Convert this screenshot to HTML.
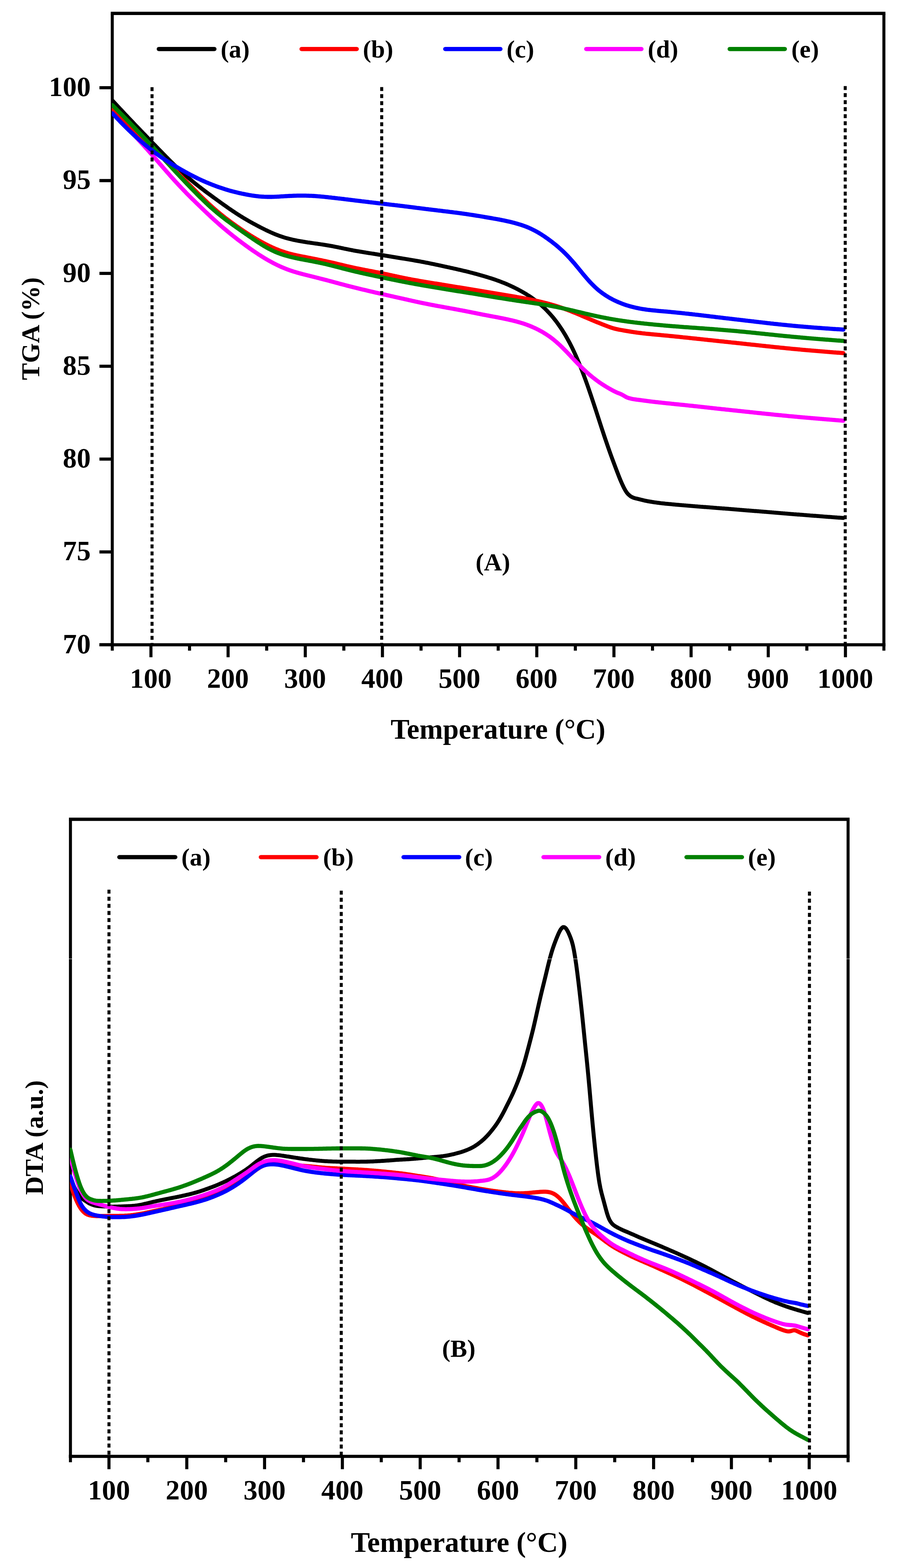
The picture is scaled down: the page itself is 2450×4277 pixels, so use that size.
<!DOCTYPE html>
<html lang="en"><head><meta charset="utf-8"><title>TGA / DTA curves</title>
<style>html,body{margin:0;padding:0;background:#fff}svg{display:block}text{font-family:'Liberation Serif','Times New Roman',Times,serif;font-weight:bold;fill:#000}.ax{stroke:#000;stroke-width:8.6;fill:none;stroke-linecap:butt}.tkm{stroke:#000;stroke-width:8.4;fill:none}.dot{stroke:#000;stroke-width:8.2;fill:none}.cv{fill:none;stroke-linecap:round;stroke-linejoin:round}.lg{fill:none;stroke-width:11.6;stroke-linecap:round}</style></head><body>
<svg width="2450" height="4277" viewBox="0 0 2450 4277">
<rect width="2450" height="4277" fill="#fff"/>
<path class="ax" style="stroke-width:8.2" d="M306.3,1774.8V36.5M2411.5,36.5V1774.8"/>
<path class="ax" style="stroke-width:9" d="M302.2,36.5H2415.6"/>
<path class="ax" d="M271.3,1758.8H2415.9"/>
<path class="tkm" d="M411.8,1758.8v34M517.1,1758.8v16M622.3,1758.8v34M727.6,1758.8v16M832.9,1758.8v34M938.1,1758.8v16M1043.4,1758.8v34M1148.7,1758.8v16M1253.9,1758.8v34M1359.2,1758.8v16M1464.5,1758.8v34M1569.7,1758.8v16M1675.0,1758.8v34M1780.2,1758.8v16M1885.5,1758.8v34M1990.8,1758.8v16M2096.0,1758.8v34M2201.3,1758.8v16M2306.6,1758.8v34"/>
<clipPath id="clipA"><rect x="305.0" y="36.5" width="2105.2" height="1722.3"/></clipPath>
<g class="cv" clip-path="url(#clipA)">
<path d="M306.5,274.0 309.5,277.2 312.5,280.5 315.5,283.7 318.5,286.9 321.5,290.1 324.5,293.4 327.5,296.6 330.5,299.8 333.5,303.0 336.5,306.2 339.5,309.4 342.5,312.6 345.5,315.8 348.5,319.0 351.5,322.2 354.5,325.3 357.5,328.5 360.5,331.6 363.5,334.8 366.5,337.9 369.5,341.1 372.5,344.2 375.5,347.3 378.5,350.5 381.5,353.6 384.5,356.7 387.5,359.8 390.5,362.9 393.5,366.0 396.5,369.1 399.5,372.2 402.5,375.3 405.5,378.4 408.5,381.5 411.5,384.7 414.5,387.8 417.5,390.9 420.5,394.0 423.5,397.1 426.5,400.2 429.5,403.3 432.5,406.4 435.5,409.5 438.5,412.6 441.5,415.6 444.5,418.7 447.5,421.8 450.5,424.8 453.5,427.9 456.5,430.9 459.5,434.0 462.5,437.0 465.5,440.0 468.5,442.9 471.5,445.9 474.5,448.8 477.5,451.7 480.5,454.6 483.5,457.5 486.5,460.3 489.5,463.1 492.5,465.9 495.5,468.7 498.5,471.4 501.5,474.1 504.5,476.7 507.4,479.4 510.4,482.0 513.4,484.6 516.4,487.1 519.4,489.7 522.4,492.2 525.4,494.7 528.4,497.1 531.4,499.6 534.4,502.0 537.4,504.4 540.4,506.7 543.4,509.1 546.4,511.4 549.4,513.7 552.4,516.0 555.4,518.3 558.4,520.6 561.4,522.8 564.4,525.1 567.4,527.3 570.4,529.5 573.4,531.7 576.4,533.9 579.4,536.1 582.4,538.3 585.4,540.5 588.4,542.7 591.4,544.8 594.4,547.0 597.4,549.2 600.4,551.3 603.4,553.5 606.4,555.6 609.4,557.8 612.4,559.9 615.4,562.0 618.4,564.2 621.4,566.3 624.4,568.4 627.4,570.4 630.4,572.5 633.4,574.5 636.4,576.6 639.4,578.6 642.4,580.6 645.4,582.5 648.4,584.5 651.4,586.4 654.4,588.3 657.4,590.2 660.4,592.0 663.4,593.9 666.4,595.7 669.4,597.4 672.4,599.2 675.4,600.9 678.4,602.7 681.4,604.4 684.4,606.1 687.4,607.7 690.4,609.4 693.4,611.0 696.4,612.6 699.4,614.2 702.4,615.8 705.4,617.4 708.4,618.9 711.4,620.5 714.4,622.0 717.4,623.5 720.4,625.0 723.4,626.5 726.4,628.0 729.4,629.4 732.4,630.8 735.4,632.2 738.4,633.6 741.4,634.9 744.4,636.2 747.4,637.5 750.4,638.7 753.4,640.0 756.4,641.1 759.4,642.3 762.4,643.4 765.4,644.4 768.4,645.4 771.4,646.4 774.4,647.4 777.4,648.3 780.4,649.2 783.4,650.0 786.4,650.8 789.4,651.6 792.4,652.3 795.4,653.0 798.4,653.7 801.4,654.4 804.4,655.0 807.4,655.6 810.4,656.2 813.4,656.8 816.4,657.3 819.4,657.9 822.4,658.4 825.4,658.9 828.4,659.4 831.4,659.9 834.4,660.4 837.4,660.8 840.4,661.3 843.4,661.7 846.4,662.2 849.4,662.6 852.4,663.0 855.4,663.5 858.4,663.9 861.4,664.3 864.4,664.7 867.4,665.2 870.4,665.6 873.4,666.0 876.4,666.5 879.4,666.9 882.4,667.4 885.4,667.8 888.4,668.3 891.4,668.8 894.4,669.3 897.4,669.8 900.4,670.3 903.4,670.9 906.4,671.4 909.3,672.0 912.3,672.6 915.3,673.2 918.3,673.8 921.3,674.4 924.3,675.0 927.3,675.6 930.3,676.3 933.3,676.9 936.3,677.5 939.3,678.2 942.3,678.8 945.3,679.4 948.3,680.0 951.3,680.6 954.3,681.2 957.3,681.8 960.3,682.4 963.3,683.0 966.3,683.6 969.3,684.1 972.3,684.7 975.3,685.2 978.3,685.7 981.3,686.2 984.3,686.7 987.3,687.2 990.3,687.7 993.3,688.2 996.3,688.7 999.3,689.2 1002.3,689.6 1005.3,690.1 1008.3,690.6 1011.3,691.0 1014.3,691.5 1017.3,691.9 1020.3,692.4 1023.3,692.9 1026.3,693.3 1029.3,693.8 1032.3,694.3 1035.3,694.8 1038.3,695.2 1041.3,695.7 1044.3,696.2 1047.3,696.7 1050.3,697.2 1053.3,697.7 1056.3,698.1 1059.3,698.6 1062.3,699.1 1065.3,699.6 1068.3,700.1 1071.3,700.6 1074.3,701.1 1077.3,701.6 1080.3,702.1 1083.3,702.6 1086.3,703.1 1089.3,703.6 1092.3,704.1 1095.3,704.6 1098.3,705.1 1101.3,705.5 1104.3,706.0 1107.3,706.5 1110.3,707.0 1113.3,707.5 1116.3,708.0 1119.3,708.5 1122.3,709.0 1125.3,709.5 1128.3,710.0 1131.3,710.6 1134.3,711.1 1137.3,711.6 1140.3,712.1 1143.3,712.7 1146.3,713.2 1149.3,713.8 1152.3,714.3 1155.3,714.9 1158.3,715.5 1161.3,716.1 1164.3,716.7 1167.3,717.2 1170.3,717.8 1173.3,718.5 1176.3,719.1 1179.3,719.7 1182.3,720.3 1185.3,720.9 1188.3,721.6 1191.3,722.2 1194.3,722.8 1197.3,723.5 1200.3,724.1 1203.3,724.8 1206.3,725.4 1209.3,726.1 1212.3,726.7 1215.3,727.4 1218.3,728.0 1221.3,728.7 1224.3,729.3 1227.3,730.0 1230.3,730.7 1233.3,731.3 1236.3,732.0 1239.3,732.7 1242.3,733.3 1245.3,734.0 1248.3,734.7 1251.3,735.4 1254.3,736.1 1257.3,736.8 1260.3,737.5 1263.3,738.2 1266.3,738.9 1269.3,739.6 1272.3,740.3 1275.3,741.1 1278.3,741.8 1281.3,742.6 1284.3,743.4 1287.3,744.1 1290.3,744.9 1293.3,745.7 1296.3,746.5 1299.3,747.3 1302.3,748.1 1305.3,749.0 1308.2,749.8 1311.2,750.7 1314.2,751.5 1317.2,752.4 1320.2,753.2 1323.2,754.1 1326.2,755.0 1329.2,755.9 1332.2,756.9 1335.2,757.8 1338.2,758.7 1341.2,759.7 1344.2,760.7 1347.2,761.7 1350.2,762.7 1353.2,763.7 1356.2,764.8 1359.2,765.8 1362.2,766.9 1365.2,768.1 1368.2,769.2 1371.2,770.4 1374.2,771.6 1377.2,772.8 1380.2,774.0 1383.2,775.3 1386.2,776.6 1389.2,777.9 1392.2,779.3 1395.2,780.7 1398.2,782.1 1401.2,783.5 1404.2,785.0 1407.2,786.5 1410.2,788.0 1413.2,789.6 1416.2,791.2 1419.2,792.8 1422.2,794.4 1425.2,796.1 1428.2,797.9 1431.2,799.6 1434.2,801.4 1437.2,803.3 1440.2,805.2 1443.2,807.1 1446.2,809.1 1449.2,811.1 1452.2,813.2 1455.2,815.3 1458.2,817.5 1461.2,819.8 1464.2,822.1 1467.2,824.5 1470.2,826.9 1473.2,829.5 1476.2,832.1 1479.2,834.7 1482.2,837.5 1485.2,840.3 1488.2,843.3 1491.2,846.3 1494.2,849.4 1497.2,852.6 1500.2,855.9 1503.2,859.3 1506.2,862.7 1509.2,866.3 1512.2,870.0 1515.2,873.8 1518.2,877.8 1521.2,881.8 1524.2,886.0 1527.2,890.3 1530.2,894.7 1533.2,899.2 1536.2,904.0 1539.2,908.8 1542.2,913.8 1545.2,919.0 1548.2,924.3 1551.2,929.8 1554.2,935.4 1557.2,941.2 1560.2,947.2 1563.2,953.4 1566.2,959.7 1569.2,966.2 1572.2,972.9 1575.2,979.8 1578.2,986.9 1581.2,994.1 1584.2,1001.5 1587.2,1009.1 1590.2,1016.9 1593.2,1024.8 1596.2,1032.9 1599.2,1041.1 1602.2,1049.5 1605.2,1058.0 1608.2,1066.7 1611.2,1075.5 1614.2,1084.4 1617.2,1093.4 1620.2,1102.4 1623.2,1111.5 1626.2,1120.7 1629.2,1129.9 1632.2,1139.2 1635.2,1148.4 1638.2,1157.6 1641.2,1166.8 1644.2,1175.9 1647.2,1185.0 1650.2,1194.0 1653.2,1202.8 1656.2,1211.6 1659.2,1220.3 1662.2,1228.8 1665.2,1237.2 1668.2,1245.5 1671.2,1253.6 1674.2,1261.7 1677.2,1269.7 1680.2,1277.7 1683.2,1285.5 1686.2,1293.3 1689.2,1301.0 1692.2,1308.4 1695.2,1315.4 1698.2,1322.1 1701.2,1328.4 1704.2,1334.2 1707.1,1339.3 1710.1,1343.7 1713.1,1347.3 1716.1,1350.2 1719.1,1352.7 1722.1,1354.7 1725.1,1356.3 1728.1,1357.6 1731.1,1358.6 1734.1,1359.4 1737.1,1360.1 1740.1,1360.8 1743.1,1361.6 1746.1,1362.3 1749.1,1363.1 1752.1,1363.8 1755.1,1364.5 1758.1,1365.2 1761.1,1365.9 1764.1,1366.5 1767.1,1367.1 1770.1,1367.7 1773.1,1368.2 1776.1,1368.7 1779.1,1369.2 1782.1,1369.6 1785.1,1370.1 1788.1,1370.5 1791.1,1370.9 1794.1,1371.3 1797.1,1371.7 1800.1,1372.1 1803.1,1372.5 1806.1,1372.8 1809.1,1373.1 1812.1,1373.4 1815.1,1373.8 1818.1,1374.1 1821.1,1374.4 1824.1,1374.7 1827.1,1374.9 1830.1,1375.2 1833.1,1375.5 1836.1,1375.8 1839.1,1376.0 1842.1,1376.3 1845.1,1376.6 1848.1,1376.8 1851.1,1377.1 1854.1,1377.4 1857.1,1377.6 1860.1,1377.9 1863.1,1378.1 1866.1,1378.4 1869.1,1378.6 1872.1,1378.9 1875.1,1379.1 1878.1,1379.4 1881.1,1379.6 1884.1,1379.9 1887.1,1380.1 1890.1,1380.4 1893.1,1380.6 1896.1,1380.9 1899.1,1381.1 1902.1,1381.3 1905.1,1381.6 1908.1,1381.8 1911.1,1382.1 1914.1,1382.3 1917.1,1382.5 1920.1,1382.8 1923.1,1383.0 1926.1,1383.2 1929.1,1383.5 1932.1,1383.7 1935.1,1383.9 1938.1,1384.2 1941.1,1384.4 1944.1,1384.6 1947.1,1384.9 1950.1,1385.1 1953.1,1385.3 1956.1,1385.6 1959.1,1385.8 1962.1,1386.0 1965.1,1386.3 1968.1,1386.5 1971.1,1386.8 1974.1,1387.0 1977.1,1387.2 1980.1,1387.5 1983.1,1387.7 1986.1,1387.9 1989.1,1388.2 1992.1,1388.4 1995.1,1388.7 1998.1,1388.9 2001.1,1389.1 2004.1,1389.4 2007.1,1389.6 2010.1,1389.9 2013.1,1390.1 2016.1,1390.3 2019.1,1390.6 2022.1,1390.8 2025.1,1391.1 2028.1,1391.3 2031.1,1391.6 2034.1,1391.8 2037.1,1392.1 2040.1,1392.3 2043.1,1392.5 2046.1,1392.8 2049.1,1393.0 2052.1,1393.3 2055.1,1393.5 2058.1,1393.8 2061.1,1394.0 2064.1,1394.2 2067.1,1394.5 2070.1,1394.7 2073.1,1395.0 2076.1,1395.2 2079.1,1395.5 2082.1,1395.7 2085.1,1396.0 2088.1,1396.2 2091.1,1396.4 2094.1,1396.7 2097.1,1396.9 2100.1,1397.2 2103.1,1397.4 2106.1,1397.7 2109.0,1397.9 2112.0,1398.2 2115.0,1398.4 2118.0,1398.7 2121.0,1398.9 2124.0,1399.2 2127.0,1399.4 2130.0,1399.7 2133.0,1399.9 2136.0,1400.2 2139.0,1400.4 2142.0,1400.7 2145.0,1400.9 2148.0,1401.1 2151.0,1401.4 2154.0,1401.6 2157.0,1401.9 2160.0,1402.1 2163.0,1402.3 2166.0,1402.6 2169.0,1402.8 2172.0,1403.0 2175.0,1403.3 2178.0,1403.5 2181.0,1403.7 2184.0,1404.0 2187.0,1404.2 2190.0,1404.4 2193.0,1404.7 2196.0,1404.9 2199.0,1405.1 2202.0,1405.4 2205.0,1405.6 2208.0,1405.8 2211.0,1406.1 2214.0,1406.3 2217.0,1406.5 2220.0,1406.8 2223.0,1407.0 2226.0,1407.2 2229.0,1407.5 2232.0,1407.7 2235.0,1407.9 2238.0,1408.2 2241.0,1408.4 2244.0,1408.6 2247.0,1408.9 2250.0,1409.1 2253.0,1409.3 2256.0,1409.5 2259.0,1409.8 2262.0,1410.0 2265.0,1410.2 2268.0,1410.4 2271.0,1410.7 2274.0,1410.9 2277.0,1411.1 2280.0,1411.3 2283.0,1411.5 2286.0,1411.8 2289.0,1412.0 2292.0,1412.2 2295.0,1412.4 2298.0,1412.6 2301.0,1412.8" stroke="#000000" stroke-width="10.8"/>
<path d="M306.5,307.0 309.5,310.0 312.5,313.1 315.5,316.1 318.5,319.2 321.5,322.2 324.5,325.3 327.5,328.3 330.5,331.4 333.5,334.5 336.5,337.6 339.5,340.7 342.5,343.8 345.5,346.9 348.5,350.1 351.5,353.2 354.5,356.4 357.5,359.5 360.5,362.7 363.5,365.9 366.5,369.1 369.5,372.3 372.5,375.6 375.5,378.8 378.5,382.1 381.5,385.3 384.5,388.6 387.5,391.9 390.5,395.2 393.5,398.5 396.5,401.9 399.5,405.2 402.5,408.6 405.5,411.9 408.5,415.3 411.5,418.7 414.5,422.1 417.5,425.5 420.5,428.9 423.5,432.3 426.5,435.8 429.5,439.2 432.5,442.6 435.5,446.1 438.5,449.5 441.5,453.0 444.5,456.4 447.5,459.9 450.5,463.3 453.5,466.8 456.5,470.2 459.5,473.6 462.5,477.0 465.5,480.4 468.5,483.7 471.5,487.1 474.5,490.4 477.5,493.7 480.5,497.0 483.5,500.2 486.5,503.5 489.5,506.7 492.5,509.8 495.5,513.0 498.5,516.1 501.5,519.2 504.5,522.3 507.4,525.4 510.4,528.4 513.4,531.4 516.4,534.4 519.4,537.4 522.4,540.4 525.4,543.4 528.4,546.3 531.4,549.3 534.4,552.2 537.4,555.1 540.4,558.0 543.4,560.9 546.4,563.8 549.4,566.7 552.4,569.6 555.4,572.5 558.4,575.3 561.4,578.2 564.4,581.0 567.4,583.9 570.4,586.7 573.4,589.5 576.4,592.3 579.4,595.0 582.4,597.8 585.4,600.5 588.4,603.2 591.4,605.9 594.4,608.6 597.4,611.3 600.4,613.9 603.4,616.5 606.4,619.1 609.4,621.7 612.4,624.2 615.4,626.7 618.4,629.2 621.4,631.7 624.4,634.2 627.4,636.6 630.4,639.0 633.4,641.4 636.4,643.8 639.4,646.2 642.4,648.5 645.4,650.9 648.4,653.2 651.4,655.5 654.4,657.8 657.4,660.0 660.4,662.3 663.4,664.5 666.4,666.7 669.4,668.9 672.4,671.1 675.4,673.3 678.4,675.4 681.4,677.6 684.4,679.7 687.4,681.8 690.4,683.8 693.4,685.9 696.4,687.9 699.4,689.9 702.4,691.9 705.4,693.9 708.4,695.8 711.4,697.7 714.4,699.6 717.4,701.4 720.4,703.3 723.4,705.1 726.4,706.8 729.4,708.6 732.4,710.3 735.4,712.0 738.4,713.7 741.4,715.3 744.4,716.9 747.4,718.5 750.4,720.0 753.4,721.5 756.4,723.0 759.4,724.4 762.4,725.8 765.4,727.2 768.4,728.5 771.4,729.8 774.4,731.1 777.4,732.3 780.4,733.5 783.4,734.6 786.4,735.7 789.4,736.8 792.4,737.8 795.4,738.8 798.4,739.8 801.4,740.8 804.4,741.7 807.4,742.6 810.4,743.5 813.4,744.3 816.4,745.2 819.4,746.0 822.4,746.8 825.4,747.6 828.4,748.4 831.4,749.1 834.4,749.9 837.4,750.6 840.4,751.4 843.4,752.1 846.4,752.9 849.4,753.6 852.4,754.4 855.4,755.1 858.4,755.9 861.4,756.6 864.4,757.4 867.4,758.1 870.4,758.9 873.4,759.7 876.4,760.4 879.4,761.2 882.4,762.0 885.4,762.8 888.4,763.5 891.4,764.3 894.4,765.1 897.4,765.9 900.4,766.7 903.4,767.5 906.4,768.3 909.3,769.1 912.3,769.9 915.3,770.7 918.3,771.5 921.3,772.3 924.3,773.1 927.3,774.0 930.3,774.8 933.3,775.6 936.3,776.3 939.3,777.1 942.3,777.9 945.3,778.7 948.3,779.5 951.3,780.3 954.3,781.0 957.3,781.8 960.3,782.5 963.3,783.3 966.3,784.1 969.3,784.8 972.3,785.5 975.3,786.3 978.3,787.0 981.3,787.7 984.3,788.5 987.3,789.2 990.3,789.9 993.3,790.6 996.3,791.3 999.3,792.0 1002.3,792.7 1005.3,793.5 1008.3,794.2 1011.3,794.9 1014.3,795.6 1017.3,796.3 1020.3,797.0 1023.3,797.7 1026.3,798.4 1029.3,799.0 1032.3,799.7 1035.3,800.4 1038.3,801.1 1041.3,801.8 1044.3,802.5 1047.3,803.2 1050.3,803.8 1053.3,804.5 1056.3,805.2 1059.3,805.9 1062.3,806.5 1065.3,807.2 1068.3,807.9 1071.3,808.5 1074.3,809.2 1077.3,809.9 1080.3,810.6 1083.3,811.2 1086.3,811.9 1089.3,812.6 1092.3,813.2 1095.3,813.9 1098.3,814.6 1101.3,815.3 1104.3,816.0 1107.3,816.6 1110.3,817.3 1113.3,818.0 1116.3,818.7 1119.3,819.3 1122.3,820.0 1125.3,820.7 1128.3,821.3 1131.3,822.0 1134.3,822.7 1137.3,823.3 1140.3,824.0 1143.3,824.6 1146.3,825.2 1149.3,825.9 1152.3,826.5 1155.3,827.1 1158.3,827.7 1161.3,828.3 1164.3,828.9 1167.3,829.5 1170.3,830.1 1173.3,830.7 1176.3,831.3 1179.3,831.9 1182.3,832.4 1185.3,833.0 1188.3,833.6 1191.3,834.1 1194.3,834.7 1197.3,835.2 1200.3,835.8 1203.3,836.3 1206.3,836.9 1209.3,837.4 1212.3,838.0 1215.3,838.5 1218.3,839.1 1221.3,839.6 1224.3,840.1 1227.3,840.7 1230.3,841.2 1233.3,841.8 1236.3,842.3 1239.3,842.9 1242.3,843.4 1245.3,844.0 1248.3,844.5 1251.3,845.1 1254.3,845.7 1257.3,846.2 1260.3,846.8 1263.3,847.4 1266.3,847.9 1269.3,848.5 1272.3,849.1 1275.3,849.7 1278.3,850.3 1281.3,850.9 1284.3,851.5 1287.3,852.1 1290.3,852.7 1293.3,853.3 1296.3,853.9 1299.3,854.5 1302.3,855.1 1305.3,855.7 1308.2,856.3 1311.2,856.9 1314.2,857.5 1317.2,858.1 1320.2,858.6 1323.2,859.2 1326.2,859.8 1329.2,860.4 1332.2,860.9 1335.2,861.5 1338.2,862.1 1341.2,862.6 1344.2,863.2 1347.2,863.8 1350.2,864.3 1353.2,864.9 1356.2,865.4 1359.2,866.0 1362.2,866.6 1365.2,867.2 1368.2,867.8 1371.2,868.4 1374.2,869.0 1377.2,869.6 1380.2,870.2 1383.2,870.9 1386.2,871.5 1389.2,872.2 1392.2,872.9 1395.2,873.6 1398.2,874.3 1401.2,875.0 1404.2,875.8 1407.2,876.5 1410.2,877.3 1413.2,878.2 1416.2,879.0 1419.2,879.9 1422.2,880.8 1425.2,881.7 1428.2,882.7 1431.2,883.7 1434.2,884.7 1437.2,885.8 1440.2,886.9 1443.2,888.1 1446.2,889.3 1449.2,890.5 1452.2,891.8 1455.2,893.1 1458.2,894.4 1461.2,895.8 1464.2,897.3 1467.2,898.8 1470.2,900.3 1473.2,901.9 1476.2,903.5 1479.2,905.2 1482.2,907.0 1485.2,908.8 1488.2,910.6 1491.2,912.6 1494.2,914.6 1497.2,916.6 1500.2,918.7 1503.2,920.9 1506.2,923.2 1509.2,925.5 1512.2,928.0 1515.2,930.5 1518.2,933.0 1521.2,935.7 1524.2,938.4 1527.2,941.1 1530.2,944.0 1533.2,946.9 1536.2,949.9 1539.2,952.9 1542.2,955.9 1545.2,959.0 1548.2,962.1 1551.2,965.3 1554.2,968.4 1557.2,971.6 1560.2,974.8 1563.2,978.0 1566.2,981.2 1569.2,984.3 1572.2,987.4 1575.2,990.5 1578.2,993.6 1581.2,996.6 1584.2,999.6 1587.2,1002.6 1590.2,1005.5 1593.2,1008.4 1596.2,1011.2 1599.2,1013.9 1602.2,1016.6 1605.2,1019.3 1608.2,1021.9 1611.2,1024.4 1614.2,1026.9 1617.2,1029.3 1620.2,1031.7 1623.2,1034.0 1626.2,1036.3 1629.2,1038.5 1632.2,1040.7 1635.2,1042.8 1638.2,1044.9 1641.2,1046.9 1644.2,1048.8 1647.2,1050.8 1650.2,1052.6 1653.2,1054.5 1656.2,1056.3 1659.2,1058.0 1662.2,1059.8 1665.2,1061.5 1668.2,1063.2 1671.2,1064.8 1674.2,1066.4 1677.2,1067.9 1680.2,1069.3 1683.2,1070.7 1686.2,1071.9 1689.2,1073.1 1692.2,1074.3 1695.2,1075.6 1698.2,1077.2 1701.2,1078.9 1704.2,1080.7 1707.1,1082.4 1710.1,1083.9 1713.1,1085.1 1716.1,1086.0 1719.1,1086.8 1722.1,1087.5 1725.1,1088.2 1728.1,1088.7 1731.1,1089.2 1734.1,1089.6 1737.1,1090.1 1740.1,1090.4 1743.1,1090.8 1746.1,1091.2 1749.1,1091.6 1752.1,1092.0 1755.1,1092.4 1758.1,1092.8 1761.1,1093.2 1764.1,1093.6 1767.1,1094.0 1770.1,1094.4 1773.1,1094.8 1776.1,1095.2 1779.1,1095.5 1782.1,1095.9 1785.1,1096.2 1788.1,1096.6 1791.1,1096.9 1794.1,1097.2 1797.1,1097.6 1800.1,1097.9 1803.1,1098.2 1806.1,1098.5 1809.1,1098.9 1812.1,1099.2 1815.1,1099.5 1818.1,1099.8 1821.1,1100.1 1824.1,1100.4 1827.1,1100.7 1830.1,1101.0 1833.1,1101.4 1836.1,1101.7 1839.1,1102.0 1842.1,1102.3 1845.1,1102.6 1848.1,1102.9 1851.1,1103.2 1854.1,1103.5 1857.1,1103.8 1860.1,1104.1 1863.1,1104.4 1866.1,1104.7 1869.1,1105.0 1872.1,1105.3 1875.1,1105.7 1878.1,1106.0 1881.1,1106.3 1884.1,1106.6 1887.1,1106.9 1890.1,1107.2 1893.1,1107.6 1896.1,1107.9 1899.1,1108.2 1902.1,1108.5 1905.1,1108.9 1908.1,1109.2 1911.1,1109.5 1914.1,1109.9 1917.1,1110.2 1920.1,1110.5 1923.1,1110.9 1926.1,1111.2 1929.1,1111.5 1932.1,1111.8 1935.1,1112.2 1938.1,1112.5 1941.1,1112.8 1944.1,1113.2 1947.1,1113.5 1950.1,1113.8 1953.1,1114.1 1956.1,1114.5 1959.1,1114.8 1962.1,1115.1 1965.1,1115.4 1968.1,1115.8 1971.1,1116.1 1974.1,1116.4 1977.1,1116.7 1980.1,1117.1 1983.1,1117.4 1986.1,1117.7 1989.1,1118.0 1992.1,1118.3 1995.1,1118.7 1998.1,1119.0 2001.1,1119.3 2004.1,1119.6 2007.1,1119.9 2010.1,1120.2 2013.1,1120.6 2016.1,1120.9 2019.1,1121.2 2022.1,1121.5 2025.1,1121.8 2028.1,1122.1 2031.1,1122.5 2034.1,1122.8 2037.1,1123.1 2040.1,1123.4 2043.1,1123.7 2046.1,1124.1 2049.1,1124.4 2052.1,1124.7 2055.1,1125.0 2058.1,1125.3 2061.1,1125.7 2064.1,1126.0 2067.1,1126.3 2070.1,1126.6 2073.1,1126.9 2076.1,1127.2 2079.1,1127.6 2082.1,1127.9 2085.1,1128.2 2088.1,1128.5 2091.1,1128.8 2094.1,1129.1 2097.1,1129.4 2100.1,1129.7 2103.1,1130.0 2106.1,1130.3 2109.0,1130.7 2112.0,1131.0 2115.0,1131.3 2118.0,1131.6 2121.0,1131.9 2124.0,1132.2 2127.0,1132.5 2130.0,1132.7 2133.0,1133.0 2136.0,1133.3 2139.0,1133.6 2142.0,1133.9 2145.0,1134.2 2148.0,1134.5 2151.0,1134.8 2154.0,1135.1 2157.0,1135.3 2160.0,1135.6 2163.0,1135.9 2166.0,1136.2 2169.0,1136.5 2172.0,1136.7 2175.0,1137.0 2178.0,1137.3 2181.0,1137.5 2184.0,1137.8 2187.0,1138.1 2190.0,1138.4 2193.0,1138.6 2196.0,1138.9 2199.0,1139.1 2202.0,1139.4 2205.0,1139.7 2208.0,1139.9 2211.0,1140.2 2214.0,1140.5 2217.0,1140.7 2220.0,1141.0 2223.0,1141.2 2226.0,1141.5 2229.0,1141.7 2232.0,1142.0 2235.0,1142.2 2238.0,1142.5 2241.0,1142.7 2244.0,1143.0 2247.0,1143.2 2250.0,1143.5 2253.0,1143.7 2256.0,1144.0 2259.0,1144.2 2262.0,1144.4 2265.0,1144.7 2268.0,1144.9 2271.0,1145.2 2274.0,1145.4 2277.0,1145.6 2280.0,1145.9 2283.0,1146.1 2286.0,1146.3 2289.0,1146.6 2292.0,1146.8 2295.0,1147.0 2298.0,1147.3 2301.0,1147.5" stroke="#ff00ff" stroke-width="11.3"/>
<path d="M306.5,300.0 309.5,302.8 312.5,305.6 315.5,308.3 318.5,311.1 321.5,313.9 324.5,316.7 327.5,319.5 330.5,322.3 333.5,325.1 336.5,327.8 339.5,330.6 342.5,333.4 345.5,336.2 348.5,339.0 351.5,341.8 354.5,344.6 357.5,347.4 360.5,350.2 363.5,353.0 366.5,355.8 369.5,358.6 372.5,361.4 375.5,364.2 378.5,367.0 381.5,369.8 384.5,372.7 387.5,375.5 390.5,378.3 393.5,381.1 396.5,384.0 399.5,386.8 402.5,389.7 405.5,392.5 408.5,395.4 411.5,398.3 414.5,401.2 417.5,404.1 420.5,407.0 423.5,409.9 426.5,412.9 429.5,415.8 432.5,418.8 435.5,421.8 438.5,424.8 441.5,427.8 444.5,430.8 447.5,433.8 450.5,436.8 453.5,439.8 456.5,442.8 459.5,445.9 462.5,448.9 465.5,451.9 468.5,455.0 471.5,458.0 474.5,461.1 477.5,464.1 480.5,467.1 483.5,470.2 486.5,473.2 489.5,476.3 492.5,479.3 495.5,482.3 498.5,485.4 501.5,488.4 504.5,491.4 507.4,494.5 510.4,497.5 513.4,500.5 516.4,503.6 519.4,506.6 522.4,509.6 525.4,512.7 528.4,515.7 531.4,518.7 534.4,521.7 537.4,524.7 540.4,527.7 543.4,530.7 546.4,533.7 549.4,536.6 552.4,539.5 555.4,542.5 558.4,545.4 561.4,548.2 564.4,551.1 567.4,553.9 570.4,556.7 573.4,559.4 576.4,562.2 579.4,564.9 582.4,567.5 585.4,570.2 588.4,572.8 591.4,575.3 594.4,577.9 597.4,580.4 600.4,582.8 603.4,585.3 606.4,587.7 609.4,590.1 612.4,592.4 615.4,594.8 618.4,597.1 621.4,599.3 624.4,601.6 627.4,603.8 630.4,606.0 633.4,608.2 636.4,610.4 639.4,612.6 642.4,614.7 645.4,616.8 648.4,618.9 651.4,621.0 654.4,623.1 657.4,625.2 660.4,627.2 663.4,629.2 666.4,631.3 669.4,633.2 672.4,635.2 675.4,637.2 678.4,639.1 681.4,641.0 684.4,642.9 687.4,644.7 690.4,646.6 693.4,648.4 696.4,650.2 699.4,652.0 702.4,653.7 705.4,655.5 708.4,657.2 711.4,658.8 714.4,660.5 717.4,662.1 720.4,663.7 723.4,665.3 726.4,666.8 729.4,668.4 732.4,669.9 735.4,671.3 738.4,672.7 741.4,674.1 744.4,675.5 747.4,676.8 750.4,678.1 753.4,679.4 756.4,680.6 759.4,681.8 762.4,683.0 765.4,684.1 768.4,685.2 771.4,686.2 774.4,687.2 777.4,688.2 780.4,689.1 783.4,690.0 786.4,690.9 789.4,691.7 792.4,692.5 795.4,693.2 798.4,694.0 801.4,694.7 804.4,695.4 807.4,696.0 810.4,696.7 813.4,697.3 816.4,698.0 819.4,698.6 822.4,699.2 825.4,699.8 828.4,700.3 831.4,700.9 834.4,701.5 837.4,702.1 840.4,702.7 843.4,703.3 846.4,703.9 849.4,704.5 852.4,705.1 855.4,705.6 858.4,706.2 861.4,706.8 864.4,707.4 867.4,708.1 870.4,708.7 873.4,709.3 876.4,709.9 879.4,710.5 882.4,711.2 885.4,711.8 888.4,712.4 891.4,713.1 894.4,713.7 897.4,714.4 900.4,715.1 903.4,715.8 906.4,716.4 909.3,717.1 912.3,717.8 915.3,718.5 918.3,719.3 921.3,720.0 924.3,720.7 927.3,721.4 930.3,722.1 933.3,722.8 936.3,723.6 939.3,724.3 942.3,725.0 945.3,725.7 948.3,726.4 951.3,727.1 954.3,727.8 957.3,728.4 960.3,729.1 963.3,729.8 966.3,730.4 969.3,731.1 972.3,731.7 975.3,732.3 978.3,732.9 981.3,733.5 984.3,734.1 987.3,734.7 990.3,735.3 993.3,735.9 996.3,736.5 999.3,737.0 1002.3,737.6 1005.3,738.2 1008.3,738.8 1011.3,739.3 1014.3,739.9 1017.3,740.5 1020.3,741.1 1023.3,741.7 1026.3,742.2 1029.3,742.8 1032.3,743.4 1035.3,744.0 1038.3,744.7 1041.3,745.3 1044.3,745.9 1047.3,746.5 1050.3,747.2 1053.3,747.8 1056.3,748.4 1059.3,749.1 1062.3,749.7 1065.3,750.4 1068.3,751.0 1071.3,751.7 1074.3,752.3 1077.3,753.0 1080.3,753.6 1083.3,754.3 1086.3,754.9 1089.3,755.6 1092.3,756.2 1095.3,756.8 1098.3,757.5 1101.3,758.1 1104.3,758.7 1107.3,759.3 1110.3,759.9 1113.3,760.5 1116.3,761.0 1119.3,761.6 1122.3,762.2 1125.3,762.7 1128.3,763.3 1131.3,763.8 1134.3,764.4 1137.3,764.9 1140.3,765.4 1143.3,766.0 1146.3,766.5 1149.3,767.0 1152.3,767.5 1155.3,768.0 1158.3,768.5 1161.3,769.0 1164.3,769.5 1167.3,770.0 1170.3,770.5 1173.3,771.0 1176.3,771.5 1179.3,772.0 1182.3,772.5 1185.3,773.0 1188.3,773.4 1191.3,773.9 1194.3,774.4 1197.3,774.9 1200.3,775.4 1203.3,775.9 1206.3,776.4 1209.3,776.8 1212.3,777.3 1215.3,777.8 1218.3,778.3 1221.3,778.8 1224.3,779.3 1227.3,779.8 1230.3,780.2 1233.3,780.7 1236.3,781.2 1239.3,781.7 1242.3,782.2 1245.3,782.7 1248.3,783.2 1251.3,783.7 1254.3,784.1 1257.3,784.6 1260.3,785.1 1263.3,785.6 1266.3,786.1 1269.3,786.6 1272.3,787.1 1275.3,787.6 1278.3,788.1 1281.3,788.6 1284.3,789.1 1287.3,789.6 1290.3,790.1 1293.3,790.6 1296.3,791.1 1299.3,791.6 1302.3,792.1 1305.3,792.6 1308.2,793.1 1311.2,793.6 1314.2,794.1 1317.2,794.6 1320.2,795.1 1323.2,795.6 1326.2,796.1 1329.2,796.6 1332.2,797.1 1335.2,797.6 1338.2,798.1 1341.2,798.6 1344.2,799.1 1347.2,799.6 1350.2,800.1 1353.2,800.6 1356.2,801.1 1359.2,801.6 1362.2,802.1 1365.2,802.6 1368.2,803.1 1371.2,803.6 1374.2,804.1 1377.2,804.6 1380.2,805.1 1383.2,805.6 1386.2,806.1 1389.2,806.6 1392.2,807.1 1395.2,807.6 1398.2,808.1 1401.2,808.6 1404.2,809.1 1407.2,809.6 1410.2,810.2 1413.2,810.7 1416.2,811.2 1419.2,811.7 1422.2,812.3 1425.2,812.8 1428.2,813.4 1431.2,814.0 1434.2,814.5 1437.2,815.1 1440.2,815.7 1443.2,816.3 1446.2,816.9 1449.2,817.5 1452.2,818.1 1455.2,818.7 1458.2,819.4 1461.2,820.0 1464.2,820.7 1467.2,821.3 1470.2,822.0 1473.2,822.7 1476.2,823.4 1479.2,824.1 1482.2,824.9 1485.2,825.6 1488.2,826.4 1491.2,827.1 1494.2,827.9 1497.2,828.7 1500.2,829.6 1503.2,830.4 1506.2,831.3 1509.2,832.2 1512.2,833.1 1515.2,834.0 1518.2,834.9 1521.2,835.9 1524.2,836.8 1527.2,837.8 1530.2,838.8 1533.2,839.9 1536.2,840.9 1539.2,842.0 1542.2,843.1 1545.2,844.2 1548.2,845.3 1551.2,846.4 1554.2,847.6 1557.2,848.8 1560.2,850.0 1563.2,851.2 1566.2,852.4 1569.2,853.6 1572.2,854.8 1575.2,856.1 1578.2,857.3 1581.2,858.6 1584.2,859.9 1587.2,861.2 1590.2,862.5 1593.2,863.7 1596.2,865.0 1599.2,866.3 1602.2,867.6 1605.2,868.9 1608.2,870.1 1611.2,871.4 1614.2,872.7 1617.2,873.9 1620.2,875.2 1623.2,876.4 1626.2,877.7 1629.2,878.9 1632.2,880.1 1635.2,881.3 1638.2,882.5 1641.2,883.7 1644.2,884.9 1647.2,886.1 1650.2,887.2 1653.2,888.4 1656.2,889.5 1659.2,890.7 1662.2,891.8 1665.2,892.9 1668.2,893.9 1671.2,894.8 1674.2,895.7 1677.2,896.5 1680.2,897.3 1683.2,897.9 1686.2,898.6 1689.2,899.2 1692.2,899.8 1695.2,900.3 1698.2,900.8 1701.2,901.4 1704.2,901.9 1707.1,902.4 1710.1,902.9 1713.1,903.4 1716.1,903.9 1719.1,904.4 1722.1,904.9 1725.1,905.3 1728.1,905.8 1731.1,906.2 1734.1,906.7 1737.1,907.1 1740.1,907.5 1743.1,907.9 1746.1,908.2 1749.1,908.6 1752.1,909.0 1755.1,909.3 1758.1,909.6 1761.1,910.0 1764.1,910.3 1767.1,910.6 1770.1,910.9 1773.1,911.2 1776.1,911.5 1779.1,911.8 1782.1,912.0 1785.1,912.3 1788.1,912.6 1791.1,912.9 1794.1,913.2 1797.1,913.4 1800.1,913.7 1803.1,914.0 1806.1,914.3 1809.1,914.6 1812.1,914.9 1815.1,915.1 1818.1,915.4 1821.1,915.7 1824.1,916.0 1827.1,916.3 1830.1,916.6 1833.1,916.9 1836.1,917.2 1839.1,917.5 1842.1,917.8 1845.1,918.1 1848.1,918.4 1851.1,918.7 1854.1,919.0 1857.1,919.3 1860.1,919.6 1863.1,920.0 1866.1,920.3 1869.1,920.6 1872.1,920.9 1875.1,921.2 1878.1,921.5 1881.1,921.8 1884.1,922.2 1887.1,922.5 1890.1,922.8 1893.1,923.1 1896.1,923.4 1899.1,923.7 1902.1,924.1 1905.1,924.4 1908.1,924.7 1911.1,925.0 1914.1,925.3 1917.1,925.7 1920.1,926.0 1923.1,926.3 1926.1,926.6 1929.1,926.9 1932.1,927.3 1935.1,927.6 1938.1,927.9 1941.1,928.2 1944.1,928.5 1947.1,928.9 1950.1,929.2 1953.1,929.5 1956.1,929.8 1959.1,930.1 1962.1,930.5 1965.1,930.8 1968.1,931.1 1971.1,931.4 1974.1,931.7 1977.1,932.1 1980.1,932.4 1983.1,932.7 1986.1,933.0 1989.1,933.3 1992.1,933.6 1995.1,934.0 1998.1,934.3 2001.1,934.6 2004.1,934.9 2007.1,935.2 2010.1,935.6 2013.1,935.9 2016.1,936.2 2019.1,936.5 2022.1,936.8 2025.1,937.2 2028.1,937.5 2031.1,937.8 2034.1,938.1 2037.1,938.5 2040.1,938.8 2043.1,939.1 2046.1,939.4 2049.1,939.8 2052.1,940.1 2055.1,940.4 2058.1,940.7 2061.1,941.0 2064.1,941.4 2067.1,941.7 2070.1,942.0 2073.1,942.3 2076.1,942.7 2079.1,943.0 2082.1,943.3 2085.1,943.6 2088.1,943.9 2091.1,944.3 2094.1,944.6 2097.1,944.9 2100.1,945.2 2103.1,945.5 2106.1,945.8 2109.0,946.2 2112.0,946.5 2115.0,946.8 2118.0,947.1 2121.0,947.4 2124.0,947.7 2127.0,948.0 2130.0,948.3 2133.0,948.6 2136.0,948.9 2139.0,949.2 2142.0,949.5 2145.0,949.8 2148.0,950.1 2151.0,950.4 2154.0,950.7 2157.0,951.0 2160.0,951.3 2163.0,951.6 2166.0,951.8 2169.0,952.1 2172.0,952.4 2175.0,952.7 2178.0,953.0 2181.0,953.2 2184.0,953.5 2187.0,953.8 2190.0,954.1 2193.0,954.3 2196.0,954.6 2199.0,954.9 2202.0,955.1 2205.0,955.4 2208.0,955.6 2211.0,955.9 2214.0,956.2 2217.0,956.4 2220.0,956.7 2223.0,956.9 2226.0,957.2 2229.0,957.4 2232.0,957.7 2235.0,957.9 2238.0,958.2 2241.0,958.4 2244.0,958.7 2247.0,958.9 2250.0,959.2 2253.0,959.4 2256.0,959.6 2259.0,959.9 2262.0,960.1 2265.0,960.4 2268.0,960.6 2271.0,960.8 2274.0,961.1 2277.0,961.3 2280.0,961.5 2283.0,961.8 2286.0,962.0 2289.0,962.2 2292.0,962.4 2295.0,962.7 2298.0,962.9 2301.0,963.1" stroke="#ff0000" stroke-width="11.3"/>
<path d="M306.5,286.8 309.5,289.8 312.5,292.8 315.5,295.8 318.5,298.8 321.5,301.8 324.5,304.8 327.5,307.8 330.5,310.8 333.5,313.8 336.5,316.9 339.5,319.9 342.5,323.0 345.5,326.1 348.5,329.1 351.5,332.2 354.5,335.3 357.5,338.4 360.5,341.6 363.5,344.7 366.5,347.8 369.5,350.9 372.5,354.1 375.5,357.2 378.5,360.4 381.5,363.6 384.5,366.7 387.5,369.9 390.5,373.1 393.5,376.3 396.5,379.4 399.5,382.6 402.5,385.8 405.5,389.0 408.5,392.2 411.5,395.4 414.5,398.6 417.5,401.9 420.5,405.1 423.5,408.3 426.5,411.5 429.5,414.8 432.5,418.0 435.5,421.3 438.5,424.5 441.5,427.8 444.5,431.0 447.5,434.3 450.5,437.6 453.5,440.8 456.5,444.1 459.5,447.4 462.5,450.6 465.5,453.9 468.5,457.1 471.5,460.4 474.5,463.6 477.5,466.9 480.5,470.1 483.5,473.3 486.5,476.5 489.5,479.7 492.5,482.9 495.5,486.0 498.5,489.2 501.5,492.4 504.5,495.5 507.4,498.6 510.4,501.8 513.4,504.9 516.4,508.0 519.4,511.1 522.4,514.2 525.4,517.2 528.4,520.3 531.4,523.3 534.4,526.4 537.4,529.4 540.4,532.4 543.4,535.4 546.4,538.4 549.4,541.3 552.4,544.2 555.4,547.1 558.4,550.0 561.4,552.9 564.4,555.7 567.4,558.5 570.4,561.2 573.4,564.0 576.4,566.7 579.4,569.3 582.4,571.9 585.4,574.5 588.4,577.1 591.4,579.6 594.4,582.1 597.4,584.5 600.4,587.0 603.4,589.4 606.4,591.7 609.4,594.0 612.4,596.4 615.4,598.6 618.4,600.9 621.4,603.1 624.4,605.3 627.4,607.5 630.4,609.7 633.4,611.9 636.4,614.1 639.4,616.2 642.4,618.3 645.4,620.5 648.4,622.6 651.4,624.7 654.4,626.8 657.4,628.9 660.4,631.0 663.4,633.1 666.4,635.2 669.4,637.3 672.4,639.4 675.4,641.4 678.4,643.5 681.4,645.6 684.4,647.6 687.4,649.7 690.4,651.7 693.4,653.7 696.4,655.7 699.4,657.7 702.4,659.7 705.4,661.7 708.4,663.6 711.4,665.5 714.4,667.4 717.4,669.3 720.4,671.1 723.4,672.9 726.4,674.6 729.4,676.3 732.4,677.9 735.4,679.5 738.4,681.1 741.4,682.5 744.4,684.0 747.4,685.4 750.4,686.7 753.4,688.0 756.4,689.2 759.4,690.4 762.4,691.5 765.4,692.6 768.4,693.6 771.4,694.6 774.4,695.6 777.4,696.5 780.4,697.4 783.4,698.2 786.4,699.1 789.4,699.9 792.4,700.6 795.4,701.4 798.4,702.1 801.4,702.8 804.4,703.4 807.4,704.1 810.4,704.7 813.4,705.4 816.4,706.0 819.4,706.6 822.4,707.1 825.4,707.7 828.4,708.3 831.4,708.9 834.4,709.4 837.4,710.0 840.4,710.5 843.4,711.1 846.4,711.7 849.4,712.2 852.4,712.8 855.4,713.4 858.4,714.0 861.4,714.6 864.4,715.2 867.4,715.8 870.4,716.4 873.4,717.0 876.4,717.7 879.4,718.3 882.4,719.0 885.4,719.6 888.4,720.3 891.4,721.0 894.4,721.7 897.4,722.5 900.4,723.2 903.4,723.9 906.4,724.7 909.3,725.4 912.3,726.2 915.3,727.0 918.3,727.8 921.3,728.5 924.3,729.3 927.3,730.1 930.3,730.9 933.3,731.7 936.3,732.5 939.3,733.3 942.3,734.0 945.3,734.8 948.3,735.6 951.3,736.3 954.3,737.1 957.3,737.8 960.3,738.6 963.3,739.3 966.3,740.0 969.3,740.7 972.3,741.4 975.3,742.1 978.3,742.8 981.3,743.5 984.3,744.2 987.3,744.8 990.3,745.5 993.3,746.2 996.3,746.8 999.3,747.5 1002.3,748.1 1005.3,748.8 1008.3,749.4 1011.3,750.0 1014.3,750.7 1017.3,751.3 1020.3,752.0 1023.3,752.6 1026.3,753.2 1029.3,753.9 1032.3,754.5 1035.3,755.1 1038.3,755.8 1041.3,756.4 1044.3,757.0 1047.3,757.7 1050.3,758.3 1053.3,758.9 1056.3,759.6 1059.3,760.2 1062.3,760.8 1065.3,761.4 1068.3,762.1 1071.3,762.7 1074.3,763.3 1077.3,763.9 1080.3,764.5 1083.3,765.1 1086.3,765.8 1089.3,766.4 1092.3,767.0 1095.3,767.5 1098.3,768.1 1101.3,768.7 1104.3,769.3 1107.3,769.9 1110.3,770.5 1113.3,771.0 1116.3,771.6 1119.3,772.1 1122.3,772.7 1125.3,773.3 1128.3,773.8 1131.3,774.4 1134.3,774.9 1137.3,775.4 1140.3,776.0 1143.3,776.5 1146.3,777.0 1149.3,777.6 1152.3,778.1 1155.3,778.6 1158.3,779.2 1161.3,779.7 1164.3,780.2 1167.3,780.7 1170.3,781.2 1173.3,781.8 1176.3,782.3 1179.3,782.8 1182.3,783.3 1185.3,783.8 1188.3,784.3 1191.3,784.8 1194.3,785.3 1197.3,785.8 1200.3,786.3 1203.3,786.8 1206.3,787.3 1209.3,787.8 1212.3,788.3 1215.3,788.8 1218.3,789.3 1221.3,789.7 1224.3,790.2 1227.3,790.7 1230.3,791.2 1233.3,791.7 1236.3,792.2 1239.3,792.6 1242.3,793.1 1245.3,793.6 1248.3,794.1 1251.3,794.6 1254.3,795.0 1257.3,795.5 1260.3,796.0 1263.3,796.5 1266.3,797.0 1269.3,797.4 1272.3,797.9 1275.3,798.4 1278.3,798.9 1281.3,799.4 1284.3,799.8 1287.3,800.3 1290.3,800.8 1293.3,801.3 1296.3,801.8 1299.3,802.3 1302.3,802.8 1305.3,803.3 1308.2,803.7 1311.2,804.2 1314.2,804.7 1317.2,805.2 1320.2,805.7 1323.2,806.2 1326.2,806.7 1329.2,807.2 1332.2,807.7 1335.2,808.2 1338.2,808.7 1341.2,809.2 1344.2,809.6 1347.2,810.1 1350.2,810.6 1353.2,811.1 1356.2,811.6 1359.2,812.1 1362.2,812.6 1365.2,813.0 1368.2,813.5 1371.2,814.0 1374.2,814.5 1377.2,815.0 1380.2,815.4 1383.2,815.9 1386.2,816.4 1389.2,816.9 1392.2,817.3 1395.2,817.8 1398.2,818.3 1401.2,818.7 1404.2,819.2 1407.2,819.6 1410.2,820.1 1413.2,820.6 1416.2,821.0 1419.2,821.5 1422.2,821.9 1425.2,822.3 1428.2,822.8 1431.2,823.2 1434.2,823.7 1437.2,824.1 1440.2,824.5 1443.2,825.0 1446.2,825.4 1449.2,825.8 1452.2,826.3 1455.2,826.7 1458.2,827.1 1461.2,827.6 1464.2,828.0 1467.2,828.5 1470.2,828.9 1473.2,829.4 1476.2,829.8 1479.2,830.3 1482.2,830.8 1485.2,831.3 1488.2,831.8 1491.2,832.3 1494.2,832.8 1497.2,833.3 1500.2,833.9 1503.2,834.4 1506.2,835.0 1509.2,835.6 1512.2,836.1 1515.2,836.7 1518.2,837.3 1521.2,837.9 1524.2,838.6 1527.2,839.2 1530.2,839.8 1533.2,840.5 1536.2,841.1 1539.2,841.8 1542.2,842.5 1545.2,843.2 1548.2,843.8 1551.2,844.5 1554.2,845.2 1557.2,845.9 1560.2,846.6 1563.2,847.3 1566.2,848.0 1569.2,848.7 1572.2,849.4 1575.2,850.2 1578.2,850.9 1581.2,851.6 1584.2,852.3 1587.2,853.0 1590.2,853.7 1593.2,854.4 1596.2,855.2 1599.2,855.9 1602.2,856.6 1605.2,857.3 1608.2,858.0 1611.2,858.7 1614.2,859.4 1617.2,860.0 1620.2,860.7 1623.2,861.4 1626.2,862.0 1629.2,862.7 1632.2,863.3 1635.2,863.9 1638.2,864.6 1641.2,865.2 1644.2,865.8 1647.2,866.4 1650.2,866.9 1653.2,867.5 1656.2,868.1 1659.2,868.6 1662.2,869.2 1665.2,869.7 1668.2,870.2 1671.2,870.8 1674.2,871.3 1677.2,871.8 1680.2,872.3 1683.2,872.7 1686.2,873.2 1689.2,873.7 1692.2,874.2 1695.2,874.6 1698.2,875.1 1701.2,875.5 1704.2,875.9 1707.1,876.3 1710.1,876.8 1713.1,877.2 1716.1,877.6 1719.1,878.0 1722.1,878.4 1725.1,878.7 1728.1,879.1 1731.1,879.5 1734.1,879.8 1737.1,880.2 1740.1,880.6 1743.1,880.9 1746.1,881.2 1749.1,881.6 1752.1,881.9 1755.1,882.2 1758.1,882.6 1761.1,882.9 1764.1,883.2 1767.1,883.5 1770.1,883.8 1773.1,884.1 1776.1,884.4 1779.1,884.7 1782.1,885.0 1785.1,885.3 1788.1,885.6 1791.1,885.9 1794.1,886.1 1797.1,886.4 1800.1,886.7 1803.1,887.0 1806.1,887.2 1809.1,887.5 1812.1,887.8 1815.1,888.0 1818.1,888.3 1821.1,888.5 1824.1,888.8 1827.1,889.0 1830.1,889.3 1833.1,889.5 1836.1,889.8 1839.1,890.0 1842.1,890.2 1845.1,890.5 1848.1,890.7 1851.1,890.9 1854.1,891.2 1857.1,891.4 1860.1,891.6 1863.1,891.8 1866.1,892.1 1869.1,892.3 1872.1,892.5 1875.1,892.7 1878.1,892.9 1881.1,893.2 1884.1,893.4 1887.1,893.6 1890.1,893.8 1893.1,894.0 1896.1,894.2 1899.1,894.4 1902.1,894.7 1905.1,894.9 1908.1,895.1 1911.1,895.3 1914.1,895.5 1917.1,895.7 1920.1,895.9 1923.1,896.2 1926.1,896.4 1929.1,896.6 1932.1,896.8 1935.1,897.0 1938.1,897.3 1941.1,897.5 1944.1,897.7 1947.1,897.9 1950.1,898.2 1953.1,898.4 1956.1,898.6 1959.1,898.9 1962.1,899.1 1965.1,899.3 1968.1,899.6 1971.1,899.8 1974.1,900.1 1977.1,900.3 1980.1,900.6 1983.1,900.8 1986.1,901.1 1989.1,901.3 1992.1,901.6 1995.1,901.9 1998.1,902.1 2001.1,902.4 2004.1,902.7 2007.1,902.9 2010.1,903.2 2013.1,903.5 2016.1,903.8 2019.1,904.1 2022.1,904.3 2025.1,904.6 2028.1,904.9 2031.1,905.2 2034.1,905.5 2037.1,905.8 2040.1,906.1 2043.1,906.4 2046.1,906.7 2049.1,907.0 2052.1,907.3 2055.1,907.6 2058.1,907.9 2061.1,908.2 2064.1,908.6 2067.1,908.9 2070.1,909.2 2073.1,909.5 2076.1,909.8 2079.1,910.1 2082.1,910.4 2085.1,910.7 2088.1,911.1 2091.1,911.4 2094.1,911.7 2097.1,912.0 2100.1,912.3 2103.1,912.6 2106.1,912.9 2109.0,913.2 2112.0,913.5 2115.0,913.9 2118.0,914.2 2121.0,914.5 2124.0,914.8 2127.0,915.1 2130.0,915.4 2133.0,915.7 2136.0,916.0 2139.0,916.3 2142.0,916.6 2145.0,916.9 2148.0,917.2 2151.0,917.4 2154.0,917.7 2157.0,918.0 2160.0,918.3 2163.0,918.6 2166.0,918.9 2169.0,919.1 2172.0,919.4 2175.0,919.7 2178.0,920.0 2181.0,920.2 2184.0,920.5 2187.0,920.8 2190.0,921.0 2193.0,921.3 2196.0,921.5 2199.0,921.8 2202.0,922.1 2205.0,922.3 2208.0,922.6 2211.0,922.8 2214.0,923.1 2217.0,923.3 2220.0,923.6 2223.0,923.8 2226.0,924.1 2229.0,924.3 2232.0,924.6 2235.0,924.8 2238.0,925.1 2241.0,925.3 2244.0,925.5 2247.0,925.8 2250.0,926.0 2253.0,926.3 2256.0,926.5 2259.0,926.7 2262.0,927.0 2265.0,927.2 2268.0,927.4 2271.0,927.7 2274.0,927.9 2277.0,928.1 2280.0,928.3 2283.0,928.6 2286.0,928.8 2289.0,929.0 2292.0,929.2 2295.0,929.5 2298.0,929.7 2301.0,929.9" stroke="#008000" stroke-width="11.3"/>
<path d="M306.5,308.8 309.5,312.0 312.5,315.2 315.5,318.4 318.5,321.6 321.5,324.8 324.5,327.9 327.5,331.1 330.5,334.2 333.5,337.2 336.5,340.3 339.5,343.3 342.5,346.3 345.5,349.3 348.5,352.2 351.5,355.1 354.5,358.0 357.5,360.9 360.5,363.7 363.5,366.5 366.5,369.3 369.5,372.0 372.5,374.7 375.5,377.4 378.5,380.1 381.5,382.7 384.5,385.3 387.5,387.9 390.5,390.5 393.5,393.0 396.5,395.6 399.5,398.0 402.5,400.5 405.5,402.9 408.5,405.3 411.5,407.7 414.5,410.0 417.5,412.3 420.5,414.6 423.5,416.9 426.5,419.1 429.5,421.3 432.5,423.4 435.5,425.6 438.5,427.7 441.5,429.7 444.5,431.8 447.5,433.8 450.5,435.8 453.5,437.8 456.5,439.7 459.5,441.6 462.5,443.6 465.5,445.4 468.5,447.3 471.5,449.2 474.5,451.0 477.5,452.8 480.5,454.6 483.5,456.4 486.5,458.2 489.5,459.9 492.5,461.6 495.5,463.4 498.5,465.0 501.5,466.7 504.5,468.4 507.4,470.0 510.4,471.7 513.4,473.3 516.4,474.9 519.4,476.5 522.4,478.0 525.4,479.6 528.4,481.1 531.4,482.6 534.4,484.1 537.4,485.6 540.4,487.1 543.4,488.5 546.4,489.9 549.4,491.3 552.4,492.7 555.4,494.0 558.4,495.3 561.4,496.6 564.4,497.9 567.4,499.1 570.4,500.4 573.4,501.6 576.4,502.8 579.4,504.0 582.4,505.1 585.4,506.3 588.4,507.4 591.4,508.5 594.4,509.6 597.4,510.7 600.4,511.7 603.4,512.7 606.4,513.7 609.4,514.7 612.4,515.7 615.4,516.6 618.4,517.5 621.4,518.4 624.4,519.3 627.4,520.2 630.4,521.0 633.4,521.8 636.4,522.6 639.4,523.3 642.4,524.1 645.4,524.8 648.4,525.5 651.4,526.2 654.4,526.9 657.4,527.5 660.4,528.2 663.4,528.8 666.4,529.4 669.4,530.0 672.4,530.6 675.4,531.1 678.4,531.7 681.4,532.2 684.4,532.7 687.4,533.2 690.4,533.7 693.4,534.1 696.4,534.5 699.4,534.9 702.4,535.2 705.4,535.6 708.4,535.9 711.4,536.1 714.4,536.4 717.4,536.5 720.4,536.7 723.4,536.8 726.4,536.9 729.4,537.0 732.4,537.0 735.4,537.0 738.4,537.0 741.4,537.0 744.4,536.9 747.4,536.8 750.4,536.7 753.4,536.6 756.4,536.4 759.4,536.3 762.4,536.1 765.4,535.9 768.4,535.7 771.4,535.6 774.4,535.4 777.4,535.2 780.4,535.0 783.4,534.9 786.4,534.7 789.4,534.5 792.4,534.4 795.4,534.3 798.4,534.1 801.4,534.0 804.4,533.9 807.4,533.8 810.4,533.7 813.4,533.7 816.4,533.6 819.4,533.6 822.4,533.6 825.4,533.6 828.4,533.6 831.4,533.6 834.4,533.7 837.4,533.8 840.4,533.8 843.4,534.0 846.4,534.1 849.4,534.2 852.4,534.4 855.4,534.5 858.4,534.7 861.4,534.9 864.4,535.1 867.4,535.4 870.4,535.6 873.4,535.9 876.4,536.2 879.4,536.4 882.4,536.7 885.4,537.0 888.4,537.3 891.4,537.6 894.4,537.9 897.4,538.3 900.4,538.6 903.4,538.9 906.4,539.3 909.3,539.6 912.3,539.9 915.3,540.3 918.3,540.6 921.3,541.0 924.3,541.3 927.3,541.7 930.3,542.0 933.3,542.4 936.3,542.7 939.3,543.1 942.3,543.5 945.3,543.8 948.3,544.2 951.3,544.6 954.3,544.9 957.3,545.3 960.3,545.7 963.3,546.0 966.3,546.4 969.3,546.8 972.3,547.1 975.3,547.5 978.3,547.9 981.3,548.2 984.3,548.6 987.3,549.0 990.3,549.3 993.3,549.7 996.3,550.0 999.3,550.4 1002.3,550.7 1005.3,551.1 1008.3,551.5 1011.3,551.8 1014.3,552.2 1017.3,552.5 1020.3,552.9 1023.3,553.2 1026.3,553.6 1029.3,553.9 1032.3,554.3 1035.3,554.7 1038.3,555.0 1041.3,555.3 1044.3,555.7 1047.3,556.0 1050.3,556.4 1053.3,556.7 1056.3,557.1 1059.3,557.4 1062.3,557.8 1065.3,558.1 1068.3,558.5 1071.3,558.8 1074.3,559.1 1077.3,559.5 1080.3,559.8 1083.3,560.2 1086.3,560.6 1089.3,560.9 1092.3,561.3 1095.3,561.6 1098.3,562.0 1101.3,562.4 1104.3,562.8 1107.3,563.1 1110.3,563.5 1113.3,563.9 1116.3,564.3 1119.3,564.7 1122.3,565.0 1125.3,565.4 1128.3,565.8 1131.3,566.2 1134.3,566.6 1137.3,567.0 1140.3,567.3 1143.3,567.7 1146.3,568.1 1149.3,568.5 1152.3,568.9 1155.3,569.2 1158.3,569.6 1161.3,570.0 1164.3,570.3 1167.3,570.7 1170.3,571.1 1173.3,571.4 1176.3,571.8 1179.3,572.2 1182.3,572.5 1185.3,572.9 1188.3,573.2 1191.3,573.6 1194.3,574.0 1197.3,574.3 1200.3,574.7 1203.3,575.0 1206.3,575.4 1209.3,575.8 1212.3,576.1 1215.3,576.5 1218.3,576.8 1221.3,577.2 1224.3,577.6 1227.3,578.0 1230.3,578.3 1233.3,578.7 1236.3,579.1 1239.3,579.5 1242.3,579.8 1245.3,580.2 1248.3,580.6 1251.3,581.0 1254.3,581.4 1257.3,581.8 1260.3,582.2 1263.3,582.7 1266.3,583.1 1269.3,583.5 1272.3,583.9 1275.3,584.4 1278.3,584.8 1281.3,585.3 1284.3,585.7 1287.3,586.2 1290.3,586.6 1293.3,587.1 1296.3,587.6 1299.3,588.1 1302.3,588.6 1305.3,589.0 1308.2,589.5 1311.2,590.0 1314.2,590.5 1317.2,591.0 1320.2,591.5 1323.2,592.1 1326.2,592.6 1329.2,593.1 1332.2,593.6 1335.2,594.1 1338.2,594.6 1341.2,595.1 1344.2,595.7 1347.2,596.2 1350.2,596.7 1353.2,597.3 1356.2,597.8 1359.2,598.4 1362.2,598.9 1365.2,599.5 1368.2,600.1 1371.2,600.7 1374.2,601.3 1377.2,601.9 1380.2,602.6 1383.2,603.2 1386.2,603.9 1389.2,604.6 1392.2,605.3 1395.2,606.0 1398.2,606.8 1401.2,607.6 1404.2,608.3 1407.2,609.2 1410.2,610.0 1413.2,610.9 1416.2,611.8 1419.2,612.7 1422.2,613.6 1425.2,614.6 1428.2,615.7 1431.2,616.8 1434.2,617.9 1437.2,619.0 1440.2,620.3 1443.2,621.5 1446.2,622.9 1449.2,624.2 1452.2,625.7 1455.2,627.2 1458.2,628.7 1461.2,630.3 1464.2,631.9 1467.2,633.6 1470.2,635.4 1473.2,637.2 1476.2,639.1 1479.2,641.0 1482.2,642.9 1485.2,644.9 1488.2,647.0 1491.2,649.1 1494.2,651.2 1497.2,653.4 1500.2,655.6 1503.2,657.8 1506.2,660.1 1509.2,662.4 1512.2,664.8 1515.2,667.2 1518.2,669.7 1521.2,672.2 1524.2,674.8 1527.2,677.4 1530.2,680.1 1533.2,682.9 1536.2,685.7 1539.2,688.6 1542.2,691.5 1545.2,694.6 1548.2,697.6 1551.2,700.8 1554.2,704.0 1557.2,707.4 1560.2,710.7 1563.2,714.2 1566.2,717.6 1569.2,721.2 1572.2,724.8 1575.2,728.4 1578.2,732.0 1581.2,735.7 1584.2,739.4 1587.2,743.0 1590.2,746.7 1593.2,750.3 1596.2,753.9 1599.2,757.4 1602.2,760.9 1605.2,764.3 1608.2,767.6 1611.2,770.8 1614.2,774.0 1617.2,777.0 1620.2,780.0 1623.2,782.9 1626.2,785.6 1629.2,788.3 1632.2,790.8 1635.2,793.3 1638.2,795.7 1641.2,797.9 1644.2,800.1 1647.2,802.3 1650.2,804.3 1653.2,806.3 1656.2,808.2 1659.2,810.0 1662.2,811.8 1665.2,813.5 1668.2,815.1 1671.2,816.7 1674.2,818.2 1677.2,819.7 1680.2,821.1 1683.2,822.5 1686.2,823.8 1689.2,825.1 1692.2,826.3 1695.2,827.5 1698.2,828.7 1701.2,829.8 1704.2,830.8 1707.1,831.8 1710.1,832.8 1713.1,833.7 1716.1,834.6 1719.1,835.5 1722.1,836.3 1725.1,837.1 1728.1,837.8 1731.1,838.6 1734.1,839.3 1737.1,839.9 1740.1,840.5 1743.1,841.1 1746.1,841.7 1749.1,842.2 1752.1,842.8 1755.1,843.2 1758.1,843.7 1761.1,844.1 1764.1,844.6 1767.1,845.0 1770.1,845.3 1773.1,845.7 1776.1,846.0 1779.1,846.3 1782.1,846.7 1785.1,846.9 1788.1,847.2 1791.1,847.5 1794.1,847.8 1797.1,848.1 1800.1,848.3 1803.1,848.6 1806.1,848.8 1809.1,849.1 1812.1,849.4 1815.1,849.6 1818.1,849.9 1821.1,850.2 1824.1,850.5 1827.1,850.7 1830.1,851.0 1833.1,851.3 1836.1,851.6 1839.1,851.9 1842.1,852.2 1845.1,852.5 1848.1,852.8 1851.1,853.1 1854.1,853.4 1857.1,853.7 1860.1,854.0 1863.1,854.3 1866.1,854.6 1869.1,855.0 1872.1,855.3 1875.1,855.6 1878.1,855.9 1881.1,856.3 1884.1,856.6 1887.1,856.9 1890.1,857.3 1893.1,857.6 1896.1,858.0 1899.1,858.3 1902.1,858.6 1905.1,859.0 1908.1,859.4 1911.1,859.7 1914.1,860.1 1917.1,860.4 1920.1,860.8 1923.1,861.1 1926.1,861.5 1929.1,861.9 1932.1,862.2 1935.1,862.6 1938.1,863.0 1941.1,863.3 1944.1,863.7 1947.1,864.0 1950.1,864.4 1953.1,864.8 1956.1,865.1 1959.1,865.5 1962.1,865.8 1965.1,866.2 1968.1,866.5 1971.1,866.9 1974.1,867.3 1977.1,867.6 1980.1,868.0 1983.1,868.3 1986.1,868.7 1989.1,869.0 1992.1,869.4 1995.1,869.7 1998.1,870.1 2001.1,870.4 2004.1,870.8 2007.1,871.1 2010.1,871.5 2013.1,871.8 2016.1,872.2 2019.1,872.5 2022.1,872.9 2025.1,873.2 2028.1,873.6 2031.1,873.9 2034.1,874.3 2037.1,874.6 2040.1,875.0 2043.1,875.3 2046.1,875.7 2049.1,876.0 2052.1,876.4 2055.1,876.7 2058.1,877.1 2061.1,877.4 2064.1,877.8 2067.1,878.1 2070.1,878.5 2073.1,878.8 2076.1,879.2 2079.1,879.5 2082.1,879.9 2085.1,880.2 2088.1,880.6 2091.1,880.9 2094.1,881.3 2097.1,881.6 2100.1,881.9 2103.1,882.3 2106.1,882.6 2109.0,882.9 2112.0,883.3 2115.0,883.6 2118.0,883.9 2121.0,884.2 2124.0,884.6 2127.0,884.9 2130.0,885.2 2133.0,885.5 2136.0,885.8 2139.0,886.1 2142.0,886.4 2145.0,886.7 2148.0,887.0 2151.0,887.3 2154.0,887.6 2157.0,887.9 2160.0,888.2 2163.0,888.5 2166.0,888.8 2169.0,889.0 2172.0,889.3 2175.0,889.6 2178.0,889.9 2181.0,890.1 2184.0,890.4 2187.0,890.6 2190.0,890.9 2193.0,891.2 2196.0,891.4 2199.0,891.7 2202.0,891.9 2205.0,892.2 2208.0,892.4 2211.0,892.6 2214.0,892.9 2217.0,893.1 2220.0,893.4 2223.0,893.6 2226.0,893.8 2229.0,894.0 2232.0,894.3 2235.0,894.5 2238.0,894.7 2241.0,894.9 2244.0,895.2 2247.0,895.4 2250.0,895.6 2253.0,895.8 2256.0,896.0 2259.0,896.2 2262.0,896.4 2265.0,896.7 2268.0,896.9 2271.0,897.1 2274.0,897.3 2277.0,897.5 2280.0,897.7 2283.0,897.8 2286.0,898.0 2289.0,898.2 2292.0,898.4 2295.0,898.6 2298.0,898.8 2301.0,899.0" stroke="#0000ff" stroke-width="11.3"/>
</g>
<path class="dot" stroke-dasharray="10.8 8.39" d="M414.8,237.7V1758.8"/>
<path class="dot" stroke-dasharray="10.8 8.39" d="M1041.4,237.5V1758.8"/>
<path class="dot" stroke-dasharray="10.8 8.39" d="M2306,234.8V1758.8"/>
<g class="tk" text-anchor="middle" font-size="76.2">
<text x="411.3" y="1876.0">100</text>
<text x="621.8" y="1876.0">200</text>
<text x="832.4" y="1876.0">300</text>
<text x="1042.9" y="1876.0">400</text>
<text x="1253.4" y="1876.0">500</text>
<text x="1464.0" y="1876.0">600</text>
<text x="1674.5" y="1876.0">700</text>
<text x="1885.0" y="1876.0">800</text>
<text x="2095.5" y="1876.0">900</text>
<text x="2306.1" y="1876.0">1000</text>
</g>
<g class="tk" text-anchor="end" font-size="76.2">
<text x="247.5" y="262.1">100</text>
<text x="247.5" y="515.4">95</text>
<text x="247.5" y="768.6">90</text>
<text x="247.5" y="1021.8">85</text>
<text x="247.5" y="1275.0">80</text>
<text x="247.5" y="1528.3">75</text>
<text x="247.5" y="1781.6">70</text>
</g>
<path class="ax" d="M271.3,239.3H306.3M271.3,492.6H306.3M271.3,745.8H306.3M271.3,999.0H306.3M271.3,1252.2H306.3M271.3,1505.5H306.3M271.3,1758.8H306.3"/>
<text class="tt" font-size="77.2" text-anchor="middle" x="1358.7" y="2015.2">Temperature (°C)</text>
<text class="yt" font-size="69.6" text-anchor="middle" transform="translate(107.1,896.5) rotate(-90)">TGA (%)</text>
<path class="lg" d="M433.3,133.7H584.9" stroke="#000000"/>
<text class="lt" font-size="68.0" x="601.9" y="156.7">(a)</text>
<path class="lg" d="M822.8,133.7H973.2" stroke="#ff0000"/>
<text class="lt" font-size="68.0" x="989.9" y="156.7">(b)</text>
<path class="lg" d="M1214.8,133.7H1365.2" stroke="#0000ff"/>
<text class="lt" font-size="68.0" x="1381.9" y="156.7">(c)</text>
<path class="lg" d="M1599.5,133.7H1750.0" stroke="#ff00ff"/>
<text class="lt" font-size="68.0" x="1767.3" y="156.7">(d)</text>
<path class="lg" d="M1990.8,133.7H2141.2" stroke="#008000"/>
<text class="lt" font-size="68.0" x="2158.9" y="156.7">(e)</text>
<text class="lt" font-size="68.0" x="1297.5" y="1556.1">(A)</text>
<path class="ax" style="stroke-width:8.2" d="M192.2,3988.5V2234.7M2313.8,2234.7V3988.5"/>
<path class="ax" style="stroke-width:9" d="M188.1,2234.7H2317.9"/>
<path class="ax" d="M187.7,3972.5H2318.2000000000003"/>
<path class="tkm" d="M297.3,3972.5v35M403.4,3972.5v16M509.6,3972.5v35M615.7,3972.5v16M721.8,3972.5v35M828.0,3972.5v16M934.1,3972.5v35M1040.2,3972.5v16M1146.4,3972.5v35M1252.5,3972.5v16M1358.7,3972.5v35M1464.8,3972.5v16M1570.9,3972.5v35M1677.1,3972.5v16M1783.2,3972.5v35M1889.3,3972.5v16M1995.5,3972.5v35M2101.6,3972.5v16M2207.7,3972.5v35"/>
<clipPath id="clipB"><rect x="190.89999999999998" y="2234.7" width="2121.6000000000004" height="1737.8000000000002"/></clipPath>
<g class="cv" clip-path="url(#clipB)">
<path d="M192.0,3213.0 195.0,3220.4 198.0,3227.6 201.0,3234.3 204.0,3240.5 207.0,3246.2 210.0,3251.4 213.0,3256.1 216.0,3260.4 219.0,3264.1 222.0,3267.3 225.0,3269.9 228.0,3272.2 231.0,3274.3 234.0,3276.3 237.0,3278.3 240.0,3280.3 243.0,3282.1 246.0,3283.6 249.0,3284.9 252.0,3286.1 255.0,3287.1 258.0,3288.0 261.0,3288.7 264.0,3289.3 267.0,3289.7 270.0,3290.0 273.0,3290.2 276.0,3290.4 279.0,3290.5 282.0,3290.7 285.0,3290.8 288.0,3290.9 291.0,3291.0 294.0,3291.1 297.0,3291.2 300.0,3291.2 303.0,3291.2 306.0,3291.3 309.0,3291.3 312.0,3291.2 315.0,3291.2 318.0,3291.1 321.0,3291.1 324.0,3291.0 327.0,3290.9 330.0,3290.8 333.0,3290.7 336.0,3290.6 339.0,3290.5 342.0,3290.4 345.0,3290.2 348.0,3290.1 351.0,3289.9 354.0,3289.8 357.0,3289.6 360.0,3289.4 363.0,3289.1 366.0,3288.9 369.0,3288.6 372.0,3288.2 375.0,3287.8 378.0,3287.3 381.0,3286.8 384.0,3286.3 387.0,3285.7 390.0,3285.0 393.0,3284.3 396.0,3283.6 399.0,3282.9 402.0,3282.2 405.0,3281.5 408.0,3280.7 411.0,3280.0 414.0,3279.3 417.0,3278.5 420.0,3277.8 423.0,3277.2 426.0,3276.5 429.0,3275.8 432.0,3275.2 435.0,3274.5 438.0,3273.9 441.0,3273.3 444.0,3272.7 447.0,3272.1 450.0,3271.5 453.0,3270.9 456.0,3270.3 459.0,3269.7 462.0,3269.1 465.0,3268.5 468.0,3267.9 471.0,3267.4 474.0,3266.8 477.0,3266.2 480.0,3265.6 483.0,3265.0 486.0,3264.4 489.0,3263.7 492.0,3263.1 495.0,3262.5 498.0,3261.8 501.0,3261.1 504.0,3260.5 507.0,3259.8 510.0,3259.1 513.0,3258.4 516.0,3257.7 519.0,3256.9 522.0,3256.2 525.0,3255.4 528.0,3254.6 531.0,3253.8 534.0,3253.0 537.0,3252.1 540.0,3251.2 543.0,3250.3 546.0,3249.3 549.0,3248.3 552.0,3247.3 555.0,3246.3 558.0,3245.3 561.0,3244.2 564.0,3243.2 567.0,3242.1 570.0,3241.0 573.0,3239.9 576.0,3238.8 579.0,3237.7 582.0,3236.5 585.0,3235.4 588.0,3234.2 591.0,3232.9 594.0,3231.7 597.0,3230.4 600.0,3229.1 603.0,3227.8 606.0,3226.5 609.0,3225.1 612.0,3223.7 615.0,3222.3 618.0,3220.8 621.0,3219.4 624.0,3217.9 627.0,3216.3 630.0,3214.8 633.0,3213.2 636.0,3211.6 639.0,3210.0 642.0,3208.4 645.0,3206.7 648.0,3205.0 651.0,3203.2 654.0,3201.4 657.0,3199.6 660.0,3197.7 663.0,3195.8 666.0,3193.9 669.0,3191.9 672.0,3189.8 675.0,3187.7 678.0,3185.5 681.0,3183.3 684.0,3181.0 687.0,3178.6 690.0,3176.2 693.0,3173.8 696.0,3171.4 699.0,3169.0 702.0,3166.7 705.0,3164.5 708.0,3162.4 711.0,3160.4 714.0,3158.6 717.0,3157.0 720.0,3155.5 723.0,3154.3 726.0,3153.2 729.0,3152.3 732.0,3151.6 735.0,3151.1 738.0,3150.7 741.0,3150.4 744.0,3150.2 747.0,3150.2 750.0,3150.2 753.0,3150.3 756.0,3150.6 759.0,3150.8 762.0,3151.2 765.0,3151.5 768.0,3152.0 771.0,3152.4 774.0,3152.9 777.0,3153.3 780.0,3153.8 783.0,3154.3 786.0,3154.7 789.0,3155.2 792.0,3155.7 795.0,3156.1 798.0,3156.6 801.0,3157.1 804.0,3157.5 807.0,3158.0 810.0,3158.4 813.0,3158.9 816.0,3159.3 819.0,3159.8 822.0,3160.2 825.0,3160.6 828.0,3161.1 831.0,3161.5 834.0,3161.9 837.0,3162.2 840.0,3162.6 843.0,3163.0 846.0,3163.3 849.0,3163.7 852.0,3164.0 855.0,3164.4 858.0,3164.7 861.0,3165.0 864.0,3165.3 867.0,3165.6 870.0,3165.9 873.0,3166.2 876.0,3166.4 879.0,3166.7 882.0,3166.9 885.0,3167.1 888.0,3167.3 891.0,3167.4 894.0,3167.6 897.0,3167.8 900.0,3167.9 903.0,3168.0 906.0,3168.1 909.0,3168.3 912.0,3168.3 915.0,3168.4 918.0,3168.5 921.0,3168.6 924.0,3168.6 927.0,3168.6 930.0,3168.6 933.0,3168.6 936.0,3168.7 939.0,3168.7 942.0,3168.7 945.0,3168.7 948.0,3168.7 951.0,3168.7 954.0,3168.7 957.0,3168.7 960.0,3168.7 963.0,3168.7 966.0,3168.7 969.0,3168.7 972.0,3168.8 975.0,3168.8 978.0,3168.8 981.0,3168.8 984.0,3168.7 987.0,3168.7 990.0,3168.7 993.0,3168.7 996.0,3168.6 999.0,3168.6 1002.0,3168.5 1005.0,3168.4 1008.0,3168.3 1011.0,3168.2 1014.0,3168.1 1017.0,3168.0 1020.0,3167.8 1023.0,3167.7 1026.0,3167.5 1029.0,3167.4 1032.0,3167.2 1035.0,3167.1 1038.0,3166.9 1041.0,3166.7 1044.0,3166.5 1047.0,3166.3 1050.0,3166.1 1053.0,3165.9 1056.0,3165.7 1059.0,3165.5 1062.0,3165.3 1065.0,3165.0 1068.0,3164.8 1071.0,3164.6 1074.0,3164.4 1077.0,3164.1 1080.0,3163.9 1083.0,3163.7 1086.0,3163.5 1089.0,3163.4 1092.0,3163.2 1095.0,3163.0 1098.0,3162.9 1101.0,3162.7 1104.0,3162.5 1107.0,3162.3 1110.0,3162.2 1113.0,3162.0 1116.0,3161.8 1119.0,3161.6 1122.0,3161.4 1125.0,3161.2 1128.0,3161.0 1131.0,3160.7 1134.0,3160.5 1137.0,3160.2 1140.0,3160.0 1143.0,3159.7 1146.0,3159.4 1149.0,3159.1 1152.0,3158.8 1155.0,3158.5 1158.0,3158.2 1161.0,3158.0 1164.0,3157.7 1167.0,3157.4 1170.0,3157.1 1173.0,3156.9 1176.0,3156.6 1179.0,3156.4 1182.0,3156.1 1185.0,3155.9 1188.0,3155.6 1191.0,3155.4 1194.0,3155.1 1197.0,3154.8 1200.0,3154.5 1203.0,3154.2 1206.0,3153.8 1209.0,3153.5 1212.0,3153.0 1215.0,3152.6 1218.0,3152.1 1221.0,3151.6 1224.0,3151.0 1227.0,3150.4 1230.0,3149.8 1233.0,3149.1 1236.0,3148.4 1239.0,3147.7 1242.0,3146.9 1245.0,3146.1 1248.0,3145.3 1251.0,3144.5 1254.0,3143.7 1257.0,3142.8 1260.0,3141.8 1263.0,3140.8 1266.0,3139.8 1269.0,3138.7 1272.0,3137.6 1275.0,3136.4 1278.0,3135.1 1281.0,3133.8 1284.0,3132.4 1287.0,3130.9 1290.0,3129.3 1293.0,3127.6 1296.0,3125.8 1299.0,3123.8 1302.0,3121.8 1305.0,3119.6 1308.0,3117.3 1311.0,3115.0 1314.0,3112.5 1317.0,3109.9 1320.0,3107.3 1323.0,3104.4 1326.0,3101.4 1329.0,3098.3 1332.0,3095.0 1335.0,3091.6 1338.0,3088.0 1341.0,3084.4 1344.0,3080.6 1347.0,3076.7 1350.0,3072.8 1353.0,3068.6 1356.0,3064.2 1359.0,3059.6 1362.0,3054.8 1365.0,3049.8 1368.0,3044.5 1371.0,3039.1 1374.0,3033.5 1377.0,3027.7 1380.0,3021.7 1383.0,3015.7 1386.0,3009.8 1389.0,3003.8 1392.0,2997.7 1395.0,2991.5 1398.0,2985.1 1401.0,2978.5 1404.0,2971.5 1407.0,2964.4 1410.0,2957.0 1413.0,2949.4 1416.0,2941.5 1419.0,2933.3 1422.0,2924.7 1425.0,2915.7 1428.0,2906.3 1431.0,2896.2 1434.0,2885.7 1437.0,2874.7 1440.0,2863.5 1443.0,2852.2 1446.0,2840.7 1449.0,2829.2 1452.0,2817.3 1455.0,2805.1 1458.0,2792.3 1461.0,2779.1 1464.0,2765.6 1467.0,2752.1 1470.0,2738.9 1473.0,2725.8 1476.0,2713.1 1479.0,2700.6 1482.0,2688.4 1485.0,2676.3 1488.0,2663.9 1491.0,2651.5 1494.0,2639.0 1497.0,2626.8 1500.0,2615.1 1503.0,2604.1 1506.0,2594.0 1509.0,2584.7 1512.0,2576.1 1515.0,2568.1 1518.0,2560.4 1521.0,2553.2 1524.0,2546.2 1527.0,2540.0 1530.0,2534.8 1533.0,2531.1 1536.0,2529.0 1539.0,2528.8 1542.0,2530.4 1545.0,2533.7 1548.0,2538.5 1551.0,2544.4 1554.0,2551.2 1557.0,2558.7 1560.0,2567.5 1563.0,2578.5 1566.0,2592.8 1569.0,2610.5 1572.0,2630.8 1575.0,2653.2 1578.0,2677.3 1581.0,2702.9 1584.0,2729.4 1587.0,2756.6 1590.0,2785.2 1593.0,2814.9 1596.0,2844.5 1599.0,2873.5 1602.0,2903.0 1605.0,2933.9 1608.0,2966.6 1611.0,3000.8 1614.0,3035.0 1617.0,3067.6 1620.0,3098.4 1623.0,3127.6 1626.0,3155.5 1629.0,3181.5 1632.0,3204.9 1635.0,3224.7 1638.0,3240.6 1641.0,3253.5 1644.0,3264.9 1647.0,3275.9 1650.0,3287.1 1653.0,3298.3 1656.0,3309.0 1659.0,3318.2 1662.0,3325.6 1665.0,3331.2 1668.0,3335.5 1671.0,3338.9 1674.0,3341.6 1677.0,3343.7 1680.0,3345.6 1683.0,3347.3 1686.0,3349.0 1689.0,3350.5 1692.0,3352.0 1695.0,3353.5 1698.0,3354.9 1701.0,3356.2 1704.0,3357.5 1707.0,3358.7 1710.0,3360.0 1713.0,3361.3 1716.0,3362.6 1719.0,3363.9 1722.0,3365.2 1725.0,3366.4 1728.0,3367.7 1731.0,3369.1 1734.0,3370.4 1737.0,3371.8 1740.0,3373.1 1743.0,3374.5 1746.0,3375.7 1749.0,3376.9 1752.0,3378.2 1755.0,3379.5 1758.0,3380.8 1761.0,3382.1 1764.0,3383.3 1767.0,3384.6 1770.0,3385.8 1773.0,3387.0 1776.0,3388.2 1779.0,3389.5 1782.0,3390.7 1785.0,3392.0 1788.0,3393.2 1791.0,3394.5 1794.0,3395.7 1797.0,3397.0 1800.0,3398.2 1803.0,3399.5 1806.0,3400.8 1809.0,3402.1 1812.0,3403.4 1815.0,3404.7 1818.0,3406.0 1821.0,3407.3 1824.0,3408.6 1827.0,3409.9 1830.0,3411.2 1833.0,3412.5 1836.0,3413.8 1839.0,3415.1 1842.0,3416.4 1845.0,3417.7 1848.0,3419.1 1851.0,3420.4 1854.0,3421.8 1857.0,3423.1 1860.0,3424.5 1863.0,3425.9 1866.0,3427.2 1869.0,3428.6 1872.0,3430.0 1875.0,3431.3 1878.0,3432.7 1881.0,3434.1 1884.0,3435.5 1887.0,3437.0 1890.0,3438.4 1893.0,3439.8 1896.0,3441.2 1899.0,3442.7 1902.0,3444.2 1905.0,3445.6 1908.0,3447.1 1911.0,3448.6 1914.0,3450.1 1917.0,3451.6 1920.0,3453.1 1923.0,3454.7 1926.0,3456.2 1929.0,3457.8 1932.0,3459.4 1935.0,3460.9 1938.0,3462.5 1941.0,3464.1 1944.0,3465.7 1947.0,3467.3 1950.0,3468.9 1953.0,3470.6 1956.0,3472.2 1959.0,3473.8 1962.0,3475.4 1965.0,3477.0 1968.0,3478.6 1971.0,3480.2 1974.0,3481.8 1977.0,3483.4 1980.0,3485.0 1983.0,3486.6 1986.0,3488.1 1989.0,3489.7 1992.0,3491.3 1995.0,3492.8 1998.0,3494.4 2001.0,3496.0 2004.0,3497.5 2007.0,3499.1 2010.0,3500.7 2013.0,3502.2 2016.0,3503.8 2019.0,3505.4 2022.0,3506.9 2025.0,3508.5 2028.0,3510.0 2031.0,3511.6 2034.0,3513.1 2037.0,3514.7 2040.0,3516.2 2043.0,3517.7 2046.0,3519.2 2049.0,3520.7 2052.0,3522.2 2055.0,3523.7 2058.0,3525.2 2061.0,3526.7 2064.0,3528.2 2067.0,3529.7 2070.0,3531.2 2073.0,3532.7 2076.0,3534.2 2079.0,3535.6 2082.0,3537.1 2085.0,3538.6 2088.0,3540.0 2091.0,3541.4 2094.0,3542.8 2097.0,3544.2 2100.0,3545.6 2103.0,3547.0 2106.0,3548.3 2109.0,3549.6 2112.0,3550.9 2115.0,3552.2 2118.0,3553.4 2121.0,3554.6 2124.0,3555.8 2127.0,3557.0 2130.0,3558.1 2133.0,3559.3 2136.0,3560.4 2139.0,3561.4 2142.0,3562.5 2145.0,3563.6 2148.0,3564.6 2151.0,3565.6 2154.0,3566.6 2157.0,3567.6 2160.0,3568.5 2163.0,3569.5 2166.0,3570.4 2169.0,3571.3 2172.0,3572.2 2175.0,3573.1 2178.0,3574.0 2181.0,3574.8 2184.0,3575.7 2187.0,3576.6 2190.0,3577.4 2193.0,3578.3 2196.0,3579.1 2199.0,3580.0 2202.0,3580.8 2204.0,3581.4" stroke="#000000" stroke-width="10.8"/>
<path d="M192.0,3228.5 195.0,3238.0 198.0,3247.1 201.0,3255.7 204.0,3263.7 207.0,3271.0 210.0,3277.8 213.0,3283.9 216.0,3289.5 219.0,3294.4 222.0,3298.7 225.0,3302.4 228.0,3305.6 231.0,3308.3 234.0,3310.5 237.0,3312.2 240.0,3313.5 243.0,3314.5 246.0,3315.3 249.0,3315.8 252.0,3316.2 255.0,3316.5 258.0,3316.7 261.0,3316.9 264.0,3317.0 267.0,3317.1 270.0,3317.1 273.0,3317.1 276.0,3317.0 279.0,3317.0 282.0,3316.9 285.0,3316.9 288.0,3316.8 291.0,3316.8 294.0,3316.7 297.0,3316.7 300.0,3316.6 303.0,3316.6 306.0,3316.6 309.0,3316.6 312.0,3316.6 315.0,3316.6 318.0,3316.6 321.0,3316.6 324.0,3316.6 327.0,3316.5 330.0,3316.5 333.0,3316.4 336.0,3316.3 339.0,3316.2 342.0,3316.0 345.0,3315.8 348.0,3315.6 351.0,3315.3 354.0,3315.1 357.0,3314.8 360.0,3314.4 363.0,3314.1 366.0,3313.7 369.0,3313.3 372.0,3312.9 375.0,3312.4 378.0,3311.9 381.0,3311.4 384.0,3310.9 387.0,3310.3 390.0,3309.8 393.0,3309.2 396.0,3308.5 399.0,3307.9 402.0,3307.3 405.0,3306.6 408.0,3306.0 411.0,3305.3 414.0,3304.7 417.0,3304.0 420.0,3303.4 423.0,3302.7 426.0,3302.1 429.0,3301.4 432.0,3300.8 435.0,3300.1 438.0,3299.5 441.0,3298.8 444.0,3298.2 447.0,3297.5 450.0,3296.9 453.0,3296.2 456.0,3295.5 459.0,3294.9 462.0,3294.2 465.0,3293.5 468.0,3292.8 471.0,3292.2 474.0,3291.5 477.0,3290.8 480.0,3290.1 483.0,3289.4 486.0,3288.7 489.0,3288.0 492.0,3287.2 495.0,3286.5 498.0,3285.8 501.0,3285.1 504.0,3284.3 507.0,3283.6 510.0,3282.9 513.0,3282.1 516.0,3281.4 519.0,3280.6 522.0,3279.9 525.0,3279.1 528.0,3278.3 531.0,3277.5 534.0,3276.7 537.0,3275.9 540.0,3275.1 543.0,3274.2 546.0,3273.4 549.0,3272.5 552.0,3271.6 555.0,3270.7 558.0,3269.7 561.0,3268.8 564.0,3267.8 567.0,3266.8 570.0,3265.7 573.0,3264.7 576.0,3263.6 579.0,3262.5 582.0,3261.3 585.0,3260.2 588.0,3259.0 591.0,3257.7 594.0,3256.5 597.0,3255.2 600.0,3253.9 603.0,3252.6 606.0,3251.2 609.0,3249.8 612.0,3248.4 615.0,3246.9 618.0,3245.4 621.0,3243.8 624.0,3242.2 627.0,3240.5 630.0,3238.8 633.0,3237.1 636.0,3235.4 639.0,3233.6 642.0,3231.7 645.0,3229.9 648.0,3228.0 651.0,3226.1 654.0,3224.1 657.0,3222.1 660.0,3220.1 663.0,3218.0 666.0,3215.9 669.0,3213.8 672.0,3211.6 675.0,3209.3 678.0,3207.1 681.0,3204.8 684.0,3202.4 687.0,3200.1 690.0,3197.8 693.0,3195.4 696.0,3193.2 699.0,3191.0 702.0,3188.9 705.0,3186.8 708.0,3185.0 711.0,3183.2 714.0,3181.6 717.0,3180.1 720.0,3178.8 723.0,3177.7 726.0,3176.6 729.0,3175.7 732.0,3175.0 735.0,3174.4 738.0,3173.8 741.0,3173.5 744.0,3173.2 747.0,3173.0 750.0,3172.9 753.0,3172.9 756.0,3173.1 759.0,3173.2 762.0,3173.5 765.0,3173.8 768.0,3174.1 771.0,3174.5 774.0,3174.8 777.0,3175.2 780.0,3175.6 783.0,3175.9 786.0,3176.2 789.0,3176.5 792.0,3176.8 795.0,3177.1 798.0,3177.4 801.0,3177.6 804.0,3177.9 807.0,3178.1 810.0,3178.4 813.0,3178.6 816.0,3178.9 819.0,3179.1 822.0,3179.3 825.0,3179.6 828.0,3179.8 831.0,3180.1 834.0,3180.3 837.0,3180.6 840.0,3180.8 843.0,3181.1 846.0,3181.4 849.0,3181.7 852.0,3182.0 855.0,3182.3 858.0,3182.6 861.0,3182.9 864.0,3183.2 867.0,3183.5 870.0,3183.8 873.0,3184.1 876.0,3184.4 879.0,3184.7 882.0,3184.9 885.0,3185.1 888.0,3185.4 891.0,3185.6 894.0,3185.8 897.0,3185.9 900.0,3186.1 903.0,3186.3 906.0,3186.4 909.0,3186.6 912.0,3186.7 915.0,3186.9 918.0,3187.0 921.0,3187.2 924.0,3187.3 927.0,3187.4 930.0,3187.6 933.0,3187.7 936.0,3187.9 939.0,3188.0 942.0,3188.2 945.0,3188.3 948.0,3188.5 951.0,3188.6 954.0,3188.8 957.0,3189.0 960.0,3189.1 963.0,3189.3 966.0,3189.5 969.0,3189.6 972.0,3189.8 975.0,3190.0 978.0,3190.2 981.0,3190.3 984.0,3190.5 987.0,3190.7 990.0,3190.9 993.0,3191.1 996.0,3191.3 999.0,3191.5 1002.0,3191.7 1005.0,3191.9 1008.0,3192.2 1011.0,3192.4 1014.0,3192.7 1017.0,3192.9 1020.0,3193.2 1023.0,3193.4 1026.0,3193.7 1029.0,3193.9 1032.0,3194.2 1035.0,3194.5 1038.0,3194.7 1041.0,3195.0 1044.0,3195.3 1047.0,3195.6 1050.0,3195.9 1053.0,3196.2 1056.0,3196.5 1059.0,3196.8 1062.0,3197.1 1065.0,3197.4 1068.0,3197.7 1071.0,3198.0 1074.0,3198.3 1077.0,3198.6 1080.0,3199.0 1083.0,3199.3 1086.0,3199.6 1089.0,3200.0 1092.0,3200.4 1095.0,3200.7 1098.0,3201.1 1101.0,3201.5 1104.0,3201.9 1107.0,3202.3 1110.0,3202.8 1113.0,3203.2 1116.0,3203.7 1119.0,3204.1 1122.0,3204.6 1125.0,3205.1 1128.0,3205.5 1131.0,3206.0 1134.0,3206.5 1137.0,3207.0 1140.0,3207.5 1143.0,3207.9 1146.0,3208.4 1149.0,3208.9 1152.0,3209.3 1155.0,3209.8 1158.0,3210.3 1161.0,3210.8 1164.0,3211.3 1167.0,3211.8 1170.0,3212.3 1173.0,3212.8 1176.0,3213.4 1179.0,3213.9 1182.0,3214.5 1185.0,3215.2 1188.0,3215.8 1191.0,3216.5 1194.0,3217.1 1197.0,3217.8 1200.0,3218.5 1203.0,3219.2 1206.0,3220.0 1209.0,3220.7 1212.0,3221.4 1215.0,3222.1 1218.0,3222.9 1221.0,3223.6 1224.0,3224.3 1227.0,3225.1 1230.0,3225.8 1233.0,3226.6 1236.0,3227.3 1239.0,3228.1 1242.0,3228.8 1245.0,3229.6 1248.0,3230.3 1251.0,3231.0 1254.0,3231.8 1257.0,3232.5 1260.0,3233.1 1263.0,3233.8 1266.0,3234.5 1269.0,3235.1 1272.0,3235.7 1275.0,3236.3 1278.0,3236.8 1281.0,3237.4 1284.0,3237.9 1287.0,3238.5 1290.0,3239.0 1293.0,3239.5 1296.0,3240.1 1299.0,3240.6 1302.0,3241.1 1305.0,3241.7 1308.0,3242.2 1311.0,3242.7 1314.0,3243.3 1317.0,3243.8 1320.0,3244.3 1323.0,3244.8 1326.0,3245.3 1329.0,3245.8 1332.0,3246.3 1335.0,3246.8 1338.0,3247.2 1341.0,3247.7 1344.0,3248.1 1347.0,3248.5 1350.0,3248.9 1353.0,3249.3 1356.0,3249.7 1359.0,3250.1 1362.0,3250.4 1365.0,3250.8 1368.0,3251.2 1371.0,3251.5 1374.0,3251.9 1377.0,3252.2 1380.0,3252.6 1383.0,3252.9 1386.0,3253.2 1389.0,3253.5 1392.0,3253.8 1395.0,3254.0 1398.0,3254.2 1401.0,3254.5 1404.0,3254.6 1407.0,3254.8 1410.0,3254.9 1413.0,3255.0 1416.0,3255.0 1419.0,3255.1 1422.0,3255.0 1425.0,3255.0 1428.0,3254.9 1431.0,3254.7 1434.0,3254.5 1437.0,3254.3 1440.0,3254.1 1443.0,3253.9 1446.0,3253.6 1449.0,3253.3 1452.0,3253.0 1455.0,3252.7 1458.0,3252.5 1461.0,3252.2 1464.0,3251.9 1467.0,3251.6 1470.0,3251.4 1473.0,3251.1 1476.0,3250.9 1479.0,3250.8 1482.0,3250.6 1485.0,3250.6 1488.0,3250.6 1491.0,3250.8 1494.0,3251.1 1497.0,3251.6 1500.0,3252.2 1503.0,3253.0 1506.0,3254.1 1509.0,3255.4 1512.0,3256.9 1515.0,3258.7 1518.0,3260.8 1521.0,3263.2 1524.0,3265.8 1527.0,3268.7 1530.0,3271.9 1533.0,3275.2 1536.0,3278.8 1539.0,3282.5 1542.0,3286.4 1545.0,3290.4 1548.0,3294.4 1551.0,3298.4 1554.0,3302.3 1557.0,3306.2 1560.0,3310.0 1563.0,3313.7 1566.0,3317.3 1569.0,3320.8 1572.0,3324.1 1575.0,3327.3 1578.0,3330.4 1581.0,3333.4 1584.0,3336.3 1587.0,3339.0 1590.0,3341.6 1593.0,3344.1 1596.0,3346.5 1599.0,3348.7 1602.0,3350.9 1605.0,3352.9 1608.0,3355.0 1611.0,3357.0 1614.0,3359.0 1617.0,3361.0 1620.0,3363.0 1623.0,3365.0 1626.0,3367.1 1629.0,3369.2 1632.0,3371.4 1635.0,3373.6 1638.0,3375.8 1641.0,3378.0 1644.0,3380.2 1647.0,3382.5 1650.0,3384.7 1653.0,3387.0 1656.0,3389.1 1659.0,3391.3 1662.0,3393.4 1665.0,3395.5 1668.0,3397.5 1671.0,3399.4 1674.0,3401.3 1677.0,3403.1 1680.0,3404.9 1683.0,3406.6 1686.0,3408.2 1689.0,3409.9 1692.0,3411.5 1695.0,3413.1 1698.0,3414.7 1701.0,3416.2 1704.0,3417.7 1707.0,3419.3 1710.0,3420.8 1713.0,3422.3 1716.0,3423.7 1719.0,3425.2 1722.0,3426.6 1725.0,3428.1 1728.0,3429.5 1731.0,3430.9 1734.0,3432.2 1737.0,3433.6 1740.0,3434.9 1743.0,3436.2 1746.0,3437.6 1749.0,3438.9 1752.0,3440.1 1755.0,3441.4 1758.0,3442.7 1761.0,3444.0 1764.0,3445.3 1767.0,3446.6 1770.0,3447.9 1773.0,3449.2 1776.0,3450.5 1779.0,3451.8 1782.0,3453.1 1785.0,3454.5 1788.0,3455.8 1791.0,3457.2 1794.0,3458.6 1797.0,3459.9 1800.0,3461.3 1803.0,3462.7 1806.0,3464.0 1809.0,3465.4 1812.0,3466.7 1815.0,3468.1 1818.0,3469.5 1821.0,3470.8 1824.0,3472.2 1827.0,3473.5 1830.0,3474.9 1833.0,3476.3 1836.0,3477.6 1839.0,3479.0 1842.0,3480.4 1845.0,3481.8 1848.0,3483.3 1851.0,3484.7 1854.0,3486.1 1857.0,3487.5 1860.0,3489.0 1863.0,3490.4 1866.0,3491.9 1869.0,3493.4 1872.0,3494.9 1875.0,3496.4 1878.0,3497.9 1881.0,3499.4 1884.0,3500.9 1887.0,3502.4 1890.0,3504.0 1893.0,3505.5 1896.0,3507.1 1899.0,3508.7 1902.0,3510.3 1905.0,3511.9 1908.0,3513.4 1911.0,3515.0 1914.0,3516.6 1917.0,3518.2 1920.0,3519.8 1923.0,3521.4 1926.0,3523.0 1929.0,3524.6 1932.0,3526.2 1935.0,3527.8 1938.0,3529.4 1941.0,3531.0 1944.0,3532.6 1947.0,3534.2 1950.0,3535.8 1953.0,3537.4 1956.0,3539.0 1959.0,3540.6 1962.0,3542.3 1965.0,3543.9 1968.0,3545.5 1971.0,3547.2 1974.0,3548.8 1977.0,3550.5 1980.0,3552.1 1983.0,3553.8 1986.0,3555.4 1989.0,3557.1 1992.0,3558.7 1995.0,3560.3 1998.0,3562.0 2001.0,3563.6 2004.0,3565.2 2007.0,3566.9 2010.0,3568.5 2013.0,3570.1 2016.0,3571.7 2019.0,3573.3 2022.0,3574.9 2025.0,3576.5 2028.0,3578.1 2031.0,3579.7 2034.0,3581.3 2037.0,3582.9 2040.0,3584.4 2043.0,3586.0 2046.0,3587.5 2049.0,3589.1 2052.0,3590.6 2055.0,3592.1 2058.0,3593.5 2061.0,3595.0 2064.0,3596.5 2067.0,3597.9 2070.0,3599.3 2073.0,3600.7 2076.0,3602.1 2079.0,3603.5 2082.0,3604.9 2085.0,3606.2 2088.0,3607.6 2091.0,3608.9 2094.0,3610.3 2097.0,3611.6 2100.0,3612.9 2103.0,3614.2 2106.0,3615.5 2109.0,3616.8 2112.0,3618.1 2115.0,3619.4 2118.0,3620.7 2121.0,3622.0 2124.0,3623.3 2127.0,3624.5 2130.0,3625.8 2133.0,3626.9 2136.0,3628.0 2139.0,3629.0 2142.0,3629.9 2145.0,3630.7 2148.0,3631.3 2151.0,3631.6 2154.0,3631.5 2157.0,3630.9 2160.0,3630.0 2163.0,3629.0 2166.0,3628.5 2169.0,3628.7 2172.0,3629.6 2175.0,3630.9 2178.0,3632.4 2181.0,3633.8 2184.0,3635.2 2187.0,3636.5 2190.0,3637.7 2193.0,3638.9 2196.0,3639.9 2199.0,3640.9 2202.0,3641.8 2204.0,3642.4" stroke="#ff0000" stroke-width="11.3"/>
<path d="M192.0,3209.0 195.0,3217.7 198.0,3226.2 201.0,3234.6 204.0,3242.9 207.0,3251.0 210.0,3259.1 213.0,3267.1 216.0,3274.6 219.0,3281.3 222.0,3286.9 225.0,3291.7 228.0,3295.7 231.0,3299.1 234.0,3302.1 237.0,3304.6 240.0,3306.8 243.0,3308.7 246.0,3310.3 249.0,3311.5 252.0,3312.5 255.0,3313.4 258.0,3314.2 261.0,3314.9 264.0,3315.5 267.0,3316.0 270.0,3316.5 273.0,3317.0 276.0,3317.4 279.0,3317.8 282.0,3318.2 285.0,3318.5 288.0,3318.8 291.0,3319.1 294.0,3319.3 297.0,3319.4 300.0,3319.6 303.0,3319.7 306.0,3319.8 309.0,3319.8 312.0,3319.8 315.0,3319.9 318.0,3319.9 321.0,3319.9 324.0,3319.8 327.0,3319.8 330.0,3319.8 333.0,3319.7 336.0,3319.6 339.0,3319.5 342.0,3319.3 345.0,3319.1 348.0,3318.9 351.0,3318.6 354.0,3318.3 357.0,3318.0 360.0,3317.6 363.0,3317.2 366.0,3316.8 369.0,3316.4 372.0,3315.9 375.0,3315.4 378.0,3314.9 381.0,3314.4 384.0,3313.8 387.0,3313.2 390.0,3312.6 393.0,3312.0 396.0,3311.4 399.0,3310.7 402.0,3310.0 405.0,3309.4 408.0,3308.7 411.0,3308.0 414.0,3307.3 417.0,3306.7 420.0,3306.0 423.0,3305.3 426.0,3304.6 429.0,3304.0 432.0,3303.3 435.0,3302.6 438.0,3302.0 441.0,3301.3 444.0,3300.6 447.0,3299.9 450.0,3299.3 453.0,3298.6 456.0,3297.9 459.0,3297.2 462.0,3296.5 465.0,3295.8 468.0,3295.1 471.0,3294.4 474.0,3293.7 477.0,3293.0 480.0,3292.3 483.0,3291.6 486.0,3290.9 489.0,3290.2 492.0,3289.5 495.0,3288.9 498.0,3288.2 501.0,3287.5 504.0,3286.9 507.0,3286.2 510.0,3285.5 513.0,3284.8 516.0,3284.1 519.0,3283.4 522.0,3282.7 525.0,3281.9 528.0,3281.2 531.0,3280.4 534.0,3279.7 537.0,3278.9 540.0,3278.1 543.0,3277.2 546.0,3276.4 549.0,3275.5 552.0,3274.6 555.0,3273.7 558.0,3272.8 561.0,3271.8 564.0,3270.8 567.0,3269.8 570.0,3268.7 573.0,3267.6 576.0,3266.5 579.0,3265.4 582.0,3264.2 585.0,3263.0 588.0,3261.8 591.0,3260.5 594.0,3259.3 597.0,3258.0 600.0,3256.6 603.0,3255.3 606.0,3253.9 609.0,3252.4 612.0,3251.0 615.0,3249.4 618.0,3247.9 621.0,3246.3 624.0,3244.6 627.0,3242.9 630.0,3241.2 633.0,3239.4 636.0,3237.6 639.0,3235.7 642.0,3233.8 645.0,3231.8 648.0,3229.8 651.0,3227.8 654.0,3225.7 657.0,3223.6 660.0,3221.4 663.0,3219.2 666.0,3216.9 669.0,3214.6 672.0,3212.3 675.0,3209.9 678.0,3207.4 681.0,3204.9 684.0,3202.4 687.0,3200.0 690.0,3197.5 693.0,3195.1 696.0,3192.7 699.0,3190.5 702.0,3188.4 705.0,3186.4 708.0,3184.6 711.0,3182.9 714.0,3181.5 717.0,3180.2 720.0,3179.1 723.0,3178.2 726.0,3177.4 729.0,3176.8 732.0,3176.4 735.0,3176.1 738.0,3175.9 741.0,3175.8 744.0,3175.8 747.0,3175.9 750.0,3176.0 753.0,3176.3 756.0,3176.6 759.0,3177.0 762.0,3177.5 765.0,3178.0 768.0,3178.6 771.0,3179.2 774.0,3179.8 777.0,3180.5 780.0,3181.2 783.0,3181.9 786.0,3182.6 789.0,3183.4 792.0,3184.1 795.0,3184.8 798.0,3185.6 801.0,3186.4 804.0,3187.1 807.0,3187.9 810.0,3188.6 813.0,3189.3 816.0,3190.1 819.0,3190.8 822.0,3191.4 825.0,3192.1 828.0,3192.7 831.0,3193.3 834.0,3193.9 837.0,3194.4 840.0,3194.9 843.0,3195.4 846.0,3195.9 849.0,3196.4 852.0,3196.8 855.0,3197.2 858.0,3197.7 861.0,3198.1 864.0,3198.4 867.0,3198.8 870.0,3199.2 873.0,3199.5 876.0,3199.9 879.0,3200.2 882.0,3200.5 885.0,3200.8 888.0,3201.1 891.0,3201.4 894.0,3201.7 897.0,3201.9 900.0,3202.2 903.0,3202.5 906.0,3202.7 909.0,3202.9 912.0,3203.2 915.0,3203.4 918.0,3203.6 921.0,3203.8 924.0,3204.0 927.0,3204.2 930.0,3204.4 933.0,3204.6 936.0,3204.7 939.0,3204.9 942.0,3205.1 945.0,3205.2 948.0,3205.4 951.0,3205.5 954.0,3205.7 957.0,3205.8 960.0,3205.9 963.0,3206.1 966.0,3206.2 969.0,3206.4 972.0,3206.5 975.0,3206.6 978.0,3206.8 981.0,3206.9 984.0,3207.1 987.0,3207.2 990.0,3207.4 993.0,3207.5 996.0,3207.7 999.0,3207.9 1002.0,3208.0 1005.0,3208.2 1008.0,3208.4 1011.0,3208.5 1014.0,3208.7 1017.0,3208.9 1020.0,3209.1 1023.0,3209.3 1026.0,3209.5 1029.0,3209.7 1032.0,3209.8 1035.0,3210.1 1038.0,3210.3 1041.0,3210.5 1044.0,3210.7 1047.0,3210.9 1050.0,3211.1 1053.0,3211.4 1056.0,3211.6 1059.0,3211.9 1062.0,3212.1 1065.0,3212.4 1068.0,3212.6 1071.0,3212.9 1074.0,3213.2 1077.0,3213.4 1080.0,3213.7 1083.0,3214.0 1086.0,3214.3 1089.0,3214.5 1092.0,3214.8 1095.0,3215.1 1098.0,3215.4 1101.0,3215.6 1104.0,3215.9 1107.0,3216.2 1110.0,3216.5 1113.0,3216.8 1116.0,3217.1 1119.0,3217.4 1122.0,3217.7 1125.0,3218.0 1128.0,3218.3 1131.0,3218.6 1134.0,3219.0 1137.0,3219.3 1140.0,3219.7 1143.0,3220.0 1146.0,3220.4 1149.0,3220.7 1152.0,3221.1 1155.0,3221.5 1158.0,3221.9 1161.0,3222.3 1164.0,3222.7 1167.0,3223.2 1170.0,3223.6 1173.0,3224.0 1176.0,3224.4 1179.0,3224.9 1182.0,3225.3 1185.0,3225.7 1188.0,3226.2 1191.0,3226.6 1194.0,3227.1 1197.0,3227.5 1200.0,3227.9 1203.0,3228.4 1206.0,3228.8 1209.0,3229.3 1212.0,3229.7 1215.0,3230.2 1218.0,3230.7 1221.0,3231.1 1224.0,3231.6 1227.0,3232.1 1230.0,3232.5 1233.0,3233.0 1236.0,3233.5 1239.0,3234.0 1242.0,3234.4 1245.0,3234.9 1248.0,3235.4 1251.0,3235.9 1254.0,3236.4 1257.0,3236.9 1260.0,3237.4 1263.0,3238.0 1266.0,3238.5 1269.0,3239.0 1272.0,3239.5 1275.0,3240.1 1278.0,3240.6 1281.0,3241.1 1284.0,3241.7 1287.0,3242.2 1290.0,3242.8 1293.0,3243.3 1296.0,3243.8 1299.0,3244.3 1302.0,3244.9 1305.0,3245.4 1308.0,3245.9 1311.0,3246.4 1314.0,3246.9 1317.0,3247.4 1320.0,3247.9 1323.0,3248.4 1326.0,3248.9 1329.0,3249.3 1332.0,3249.8 1335.0,3250.3 1338.0,3250.7 1341.0,3251.2 1344.0,3251.7 1347.0,3252.1 1350.0,3252.6 1353.0,3253.0 1356.0,3253.5 1359.0,3253.9 1362.0,3254.4 1365.0,3254.8 1368.0,3255.2 1371.0,3255.7 1374.0,3256.1 1377.0,3256.5 1380.0,3256.9 1383.0,3257.3 1386.0,3257.7 1389.0,3258.1 1392.0,3258.5 1395.0,3258.9 1398.0,3259.3 1401.0,3259.6 1404.0,3260.0 1407.0,3260.4 1410.0,3260.7 1413.0,3261.1 1416.0,3261.4 1419.0,3261.8 1422.0,3262.1 1425.0,3262.5 1428.0,3262.9 1431.0,3263.2 1434.0,3263.6 1437.0,3264.0 1440.0,3264.4 1443.0,3264.8 1446.0,3265.2 1449.0,3265.7 1452.0,3266.1 1455.0,3266.6 1458.0,3267.0 1461.0,3267.6 1464.0,3268.1 1467.0,3268.6 1470.0,3269.2 1473.0,3269.8 1476.0,3270.5 1479.0,3271.2 1482.0,3272.0 1485.0,3272.8 1488.0,3273.8 1491.0,3274.7 1494.0,3275.8 1497.0,3276.9 1500.0,3278.2 1503.0,3279.4 1506.0,3280.7 1509.0,3282.1 1512.0,3283.5 1515.0,3284.9 1518.0,3286.3 1521.0,3287.7 1524.0,3289.1 1527.0,3290.5 1530.0,3292.0 1533.0,3293.4 1536.0,3294.9 1539.0,3296.4 1542.0,3298.0 1545.0,3299.6 1548.0,3301.2 1551.0,3302.9 1554.0,3304.5 1557.0,3306.2 1560.0,3307.9 1563.0,3309.5 1566.0,3311.1 1569.0,3312.7 1572.0,3314.3 1575.0,3315.8 1578.0,3317.3 1581.0,3318.7 1584.0,3320.1 1587.0,3321.5 1590.0,3322.9 1593.0,3324.3 1596.0,3325.7 1599.0,3327.0 1602.0,3328.4 1605.0,3329.8 1608.0,3331.3 1611.0,3332.7 1614.0,3334.2 1617.0,3335.7 1620.0,3337.3 1623.0,3338.9 1626.0,3340.5 1629.0,3342.1 1632.0,3343.8 1635.0,3345.5 1638.0,3347.1 1641.0,3348.8 1644.0,3350.5 1647.0,3352.2 1650.0,3353.9 1653.0,3355.5 1656.0,3357.1 1659.0,3358.8 1662.0,3360.4 1665.0,3362.0 1668.0,3363.5 1671.0,3365.1 1674.0,3366.6 1677.0,3368.1 1680.0,3369.6 1683.0,3371.0 1686.0,3372.5 1689.0,3373.9 1692.0,3375.3 1695.0,3376.7 1698.0,3378.1 1701.0,3379.4 1704.0,3380.8 1707.0,3382.1 1710.0,3383.4 1713.0,3384.7 1716.0,3386.0 1719.0,3387.2 1722.0,3388.4 1725.0,3389.6 1728.0,3390.8 1731.0,3392.0 1734.0,3393.1 1737.0,3394.3 1740.0,3395.4 1743.0,3396.5 1746.0,3397.7 1749.0,3398.8 1752.0,3399.9 1755.0,3401.0 1758.0,3402.2 1761.0,3403.3 1764.0,3404.4 1767.0,3405.5 1770.0,3406.6 1773.0,3407.6 1776.0,3408.7 1779.0,3409.8 1782.0,3410.8 1785.0,3411.8 1788.0,3412.9 1791.0,3413.9 1794.0,3414.9 1797.0,3415.9 1800.0,3416.9 1803.0,3417.9 1806.0,3419.0 1809.0,3420.0 1812.0,3421.1 1815.0,3422.1 1818.0,3423.2 1821.0,3424.3 1824.0,3425.3 1827.0,3426.4 1830.0,3427.5 1833.0,3428.6 1836.0,3429.7 1839.0,3430.8 1842.0,3431.9 1845.0,3433.0 1848.0,3434.1 1851.0,3435.2 1854.0,3436.3 1857.0,3437.4 1860.0,3438.6 1863.0,3439.7 1866.0,3440.8 1869.0,3442.0 1872.0,3443.2 1875.0,3444.4 1878.0,3445.6 1881.0,3446.8 1884.0,3448.0 1887.0,3449.3 1890.0,3450.5 1893.0,3451.8 1896.0,3453.1 1899.0,3454.4 1902.0,3455.7 1905.0,3457.0 1908.0,3458.3 1911.0,3459.6 1914.0,3460.9 1917.0,3462.2 1920.0,3463.5 1923.0,3464.8 1926.0,3466.1 1929.0,3467.4 1932.0,3468.7 1935.0,3470.0 1938.0,3471.3 1941.0,3472.6 1944.0,3473.9 1947.0,3475.2 1950.0,3476.6 1953.0,3477.9 1956.0,3479.3 1959.0,3480.6 1962.0,3482.0 1965.0,3483.4 1968.0,3484.8 1971.0,3486.2 1974.0,3487.6 1977.0,3489.0 1980.0,3490.4 1983.0,3491.8 1986.0,3493.2 1989.0,3494.6 1992.0,3495.9 1995.0,3497.3 1998.0,3498.6 2001.0,3499.9 2004.0,3501.3 2007.0,3502.6 2010.0,3503.9 2013.0,3505.2 2016.0,3506.4 2019.0,3507.7 2022.0,3508.9 2025.0,3510.2 2028.0,3511.4 2031.0,3512.6 2034.0,3513.8 2037.0,3515.0 2040.0,3516.2 2043.0,3517.4 2046.0,3518.5 2049.0,3519.7 2052.0,3520.8 2055.0,3521.9 2058.0,3523.0 2061.0,3524.1 2064.0,3525.2 2067.0,3526.2 2070.0,3527.3 2073.0,3528.3 2076.0,3529.4 2079.0,3530.4 2082.0,3531.4 2085.0,3532.4 2088.0,3533.4 2091.0,3534.4 2094.0,3535.3 2097.0,3536.3 2100.0,3537.2 2103.0,3538.1 2106.0,3539.0 2109.0,3539.9 2112.0,3540.8 2115.0,3541.7 2118.0,3542.5 2121.0,3543.4 2124.0,3544.2 2127.0,3545.0 2130.0,3545.8 2133.0,3546.6 2136.0,3547.4 2139.0,3548.2 2142.0,3548.9 2145.0,3549.6 2148.0,3550.3 2151.0,3551.0 2154.0,3551.6 2157.0,3552.1 2160.0,3552.6 2163.0,3553.0 2166.0,3553.5 2169.0,3554.0 2172.0,3554.6 2175.0,3555.3 2178.0,3556.1 2181.0,3556.9 2184.0,3557.7 2187.0,3558.4 2190.0,3559.1 2193.0,3559.8 2196.0,3560.5 2199.0,3561.1 2202.0,3561.8 2204.0,3562.2" stroke="#0000ff" stroke-width="11.3"/>
<path d="M192.0,3157.0 195.0,3168.2 198.0,3179.2 201.0,3189.7 204.0,3199.9 207.0,3209.6 210.0,3218.9 213.0,3227.8 216.0,3236.1 219.0,3243.5 222.0,3250.0 225.0,3255.6 228.0,3260.5 231.0,3264.7 234.0,3268.2 237.0,3271.1 240.0,3273.4 243.0,3275.3 246.0,3276.9 249.0,3278.3 252.0,3279.4 255.0,3280.4 258.0,3281.4 261.0,3282.2 264.0,3283.0 267.0,3283.9 270.0,3284.7 273.0,3285.5 276.0,3286.4 279.0,3287.2 282.0,3288.1 285.0,3288.9 288.0,3289.7 291.0,3290.5 294.0,3291.3 297.0,3292.1 300.0,3292.8 303.0,3293.5 306.0,3294.1 309.0,3294.8 312.0,3295.4 315.0,3295.9 318.0,3296.4 321.0,3296.8 324.0,3297.2 327.0,3297.6 330.0,3297.8 333.0,3298.0 336.0,3298.1 339.0,3298.2 342.0,3298.3 345.0,3298.3 348.0,3298.2 351.0,3298.1 354.0,3298.1 357.0,3297.9 360.0,3297.8 363.0,3297.6 366.0,3297.4 369.0,3297.2 372.0,3297.0 375.0,3296.7 378.0,3296.4 381.0,3296.1 384.0,3295.7 387.0,3295.3 390.0,3294.8 393.0,3294.4 396.0,3293.9 399.0,3293.4 402.0,3292.8 405.0,3292.3 408.0,3291.8 411.0,3291.3 414.0,3290.8 417.0,3290.3 420.0,3289.8 423.0,3289.3 426.0,3288.8 429.0,3288.3 432.0,3287.9 435.0,3287.4 438.0,3286.9 441.0,3286.5 444.0,3286.0 447.0,3285.6 450.0,3285.1 453.0,3284.7 456.0,3284.2 459.0,3283.7 462.0,3283.2 465.0,3282.7 468.0,3282.2 471.0,3281.7 474.0,3281.2 477.0,3280.7 480.0,3280.1 483.0,3279.5 486.0,3278.9 489.0,3278.3 492.0,3277.7 495.0,3277.0 498.0,3276.3 501.0,3275.6 504.0,3274.9 507.0,3274.2 510.0,3273.4 513.0,3272.6 516.0,3271.9 519.0,3271.1 522.0,3270.3 525.0,3269.4 528.0,3268.6 531.0,3267.7 534.0,3266.9 537.0,3266.0 540.0,3265.1 543.0,3264.2 546.0,3263.2 549.0,3262.3 552.0,3261.3 555.0,3260.4 558.0,3259.4 561.0,3258.4 564.0,3257.3 567.0,3256.3 570.0,3255.2 573.0,3254.1 576.0,3253.0 579.0,3251.9 582.0,3250.7 585.0,3249.5 588.0,3248.3 591.0,3247.0 594.0,3245.7 597.0,3244.3 600.0,3243.0 603.0,3241.5 606.0,3240.1 609.0,3238.5 612.0,3236.9 615.0,3235.3 618.0,3233.5 621.0,3231.8 624.0,3229.9 627.0,3228.0 630.0,3226.1 633.0,3224.2 636.0,3222.2 639.0,3220.3 642.0,3218.3 645.0,3216.4 648.0,3214.4 651.0,3212.5 654.0,3210.6 657.0,3208.7 660.0,3206.7 663.0,3204.8 666.0,3202.8 669.0,3200.8 672.0,3198.8 675.0,3196.7 678.0,3194.6 681.0,3192.4 684.0,3190.2 687.0,3188.0 690.0,3185.8 693.0,3183.6 696.0,3181.5 699.0,3179.5 702.0,3177.5 705.0,3175.7 708.0,3174.0 711.0,3172.5 714.0,3171.1 717.0,3169.8 720.0,3168.7 723.0,3167.8 726.0,3167.0 729.0,3166.3 732.0,3165.7 735.0,3165.3 738.0,3165.0 741.0,3164.8 744.0,3164.7 747.0,3164.6 750.0,3164.7 753.0,3164.9 756.0,3165.2 759.0,3165.5 762.0,3165.9 765.0,3166.4 768.0,3166.9 771.0,3167.4 774.0,3168.0 777.0,3168.7 780.0,3169.3 783.0,3170.0 786.0,3170.7 789.0,3171.4 792.0,3172.1 795.0,3172.8 798.0,3173.5 801.0,3174.3 804.0,3175.0 807.0,3175.8 810.0,3176.5 813.0,3177.3 816.0,3178.0 819.0,3178.7 822.0,3179.4 825.0,3180.0 828.0,3180.7 831.0,3181.3 834.0,3181.8 837.0,3182.4 840.0,3182.9 843.0,3183.4 846.0,3183.8 849.0,3184.3 852.0,3184.7 855.0,3185.1 858.0,3185.5 861.0,3185.9 864.0,3186.3 867.0,3186.7 870.0,3187.1 873.0,3187.4 876.0,3187.8 879.0,3188.2 882.0,3188.5 885.0,3188.9 888.0,3189.3 891.0,3189.6 894.0,3190.0 897.0,3190.4 900.0,3190.8 903.0,3191.1 906.0,3191.5 909.0,3191.8 912.0,3192.2 915.0,3192.5 918.0,3192.8 921.0,3193.1 924.0,3193.4 927.0,3193.7 930.0,3194.0 933.0,3194.2 936.0,3194.5 939.0,3194.7 942.0,3194.9 945.0,3195.1 948.0,3195.3 951.0,3195.5 954.0,3195.7 957.0,3195.9 960.0,3196.1 963.0,3196.2 966.0,3196.4 969.0,3196.6 972.0,3196.7 975.0,3196.9 978.0,3197.1 981.0,3197.2 984.0,3197.4 987.0,3197.6 990.0,3197.8 993.0,3198.0 996.0,3198.1 999.0,3198.3 1002.0,3198.5 1005.0,3198.7 1008.0,3198.9 1011.0,3199.1 1014.0,3199.3 1017.0,3199.4 1020.0,3199.6 1023.0,3199.8 1026.0,3200.0 1029.0,3200.2 1032.0,3200.4 1035.0,3200.6 1038.0,3200.8 1041.0,3201.1 1044.0,3201.3 1047.0,3201.5 1050.0,3201.7 1053.0,3201.9 1056.0,3202.2 1059.0,3202.4 1062.0,3202.6 1065.0,3202.9 1068.0,3203.1 1071.0,3203.4 1074.0,3203.6 1077.0,3203.9 1080.0,3204.1 1083.0,3204.4 1086.0,3204.7 1089.0,3205.0 1092.0,3205.3 1095.0,3205.6 1098.0,3205.9 1101.0,3206.2 1104.0,3206.5 1107.0,3206.9 1110.0,3207.2 1113.0,3207.6 1116.0,3207.9 1119.0,3208.3 1122.0,3208.7 1125.0,3209.1 1128.0,3209.4 1131.0,3209.8 1134.0,3210.2 1137.0,3210.6 1140.0,3211.0 1143.0,3211.3 1146.0,3211.7 1149.0,3212.1 1152.0,3212.5 1155.0,3212.9 1158.0,3213.3 1161.0,3213.6 1164.0,3214.0 1167.0,3214.4 1170.0,3214.8 1173.0,3215.1 1176.0,3215.4 1179.0,3215.8 1182.0,3216.1 1185.0,3216.4 1188.0,3216.7 1191.0,3217.0 1194.0,3217.2 1197.0,3217.5 1200.0,3217.8 1203.0,3218.0 1206.0,3218.3 1209.0,3218.6 1212.0,3218.9 1215.0,3219.2 1218.0,3219.5 1221.0,3219.8 1224.0,3220.1 1227.0,3220.4 1230.0,3220.7 1233.0,3220.9 1236.0,3221.2 1239.0,3221.5 1242.0,3221.7 1245.0,3222.0 1248.0,3222.2 1251.0,3222.4 1254.0,3222.5 1257.0,3222.7 1260.0,3222.8 1263.0,3222.9 1266.0,3223.0 1269.0,3223.1 1272.0,3223.2 1275.0,3223.2 1278.0,3223.2 1281.0,3223.2 1284.0,3223.1 1287.0,3223.0 1290.0,3222.9 1293.0,3222.7 1296.0,3222.5 1299.0,3222.3 1302.0,3222.1 1305.0,3221.8 1308.0,3221.5 1311.0,3221.2 1314.0,3220.9 1317.0,3220.6 1320.0,3220.2 1323.0,3219.8 1326.0,3219.3 1329.0,3218.8 1332.0,3218.0 1335.0,3217.1 1338.0,3216.0 1341.0,3214.7 1344.0,3213.2 1347.0,3211.4 1350.0,3209.4 1353.0,3207.2 1356.0,3204.7 1359.0,3202.0 1362.0,3199.1 1365.0,3195.9 1368.0,3192.6 1371.0,3189.1 1374.0,3185.4 1377.0,3181.5 1380.0,3177.5 1383.0,3173.2 1386.0,3168.8 1389.0,3164.1 1392.0,3159.3 1395.0,3154.3 1398.0,3149.1 1401.0,3143.7 1404.0,3138.1 1407.0,3132.4 1410.0,3126.4 1413.0,3120.3 1416.0,3114.0 1419.0,3107.6 1422.0,3101.1 1425.0,3094.5 1428.0,3087.5 1431.0,3080.3 1434.0,3073.0 1437.0,3065.7 1440.0,3058.3 1443.0,3050.8 1446.0,3043.4 1449.0,3036.5 1452.0,3030.1 1455.0,3024.4 1458.0,3019.4 1461.0,3014.9 1464.0,3011.3 1467.0,3009.1 1470.0,3008.8 1473.0,3010.4 1476.0,3013.8 1479.0,3018.7 1482.0,3025.0 1485.0,3033.0 1488.0,3042.8 1491.0,3053.9 1494.0,3065.4 1497.0,3076.9 1500.0,3088.2 1503.0,3099.1 1506.0,3109.7 1509.0,3119.6 1512.0,3128.8 1515.0,3136.8 1518.0,3143.4 1521.0,3148.7 1524.0,3153.3 1527.0,3157.7 1530.0,3162.2 1533.0,3166.9 1536.0,3172.0 1539.0,3177.3 1542.0,3182.9 1545.0,3188.9 1548.0,3195.3 1551.0,3202.0 1554.0,3209.0 1557.0,3216.3 1560.0,3223.8 1563.0,3231.5 1566.0,3239.3 1569.0,3247.1 1572.0,3254.9 1575.0,3262.6 1578.0,3270.1 1581.0,3277.6 1584.0,3284.9 1587.0,3291.9 1590.0,3298.8 1593.0,3305.4 1596.0,3311.7 1599.0,3317.6 1602.0,3323.3 1605.0,3328.6 1608.0,3333.5 1611.0,3338.1 1614.0,3342.4 1617.0,3346.3 1620.0,3350.0 1623.0,3353.5 1626.0,3356.7 1629.0,3359.8 1632.0,3362.7 1635.0,3365.5 1638.0,3368.3 1641.0,3371.0 1644.0,3373.6 1647.0,3376.2 1650.0,3378.7 1653.0,3381.1 1656.0,3383.5 1659.0,3385.9 1662.0,3388.2 1665.0,3390.3 1668.0,3392.4 1671.0,3394.4 1674.0,3396.3 1677.0,3398.1 1680.0,3399.9 1683.0,3401.5 1686.0,3403.1 1689.0,3404.7 1692.0,3406.2 1695.0,3407.7 1698.0,3409.1 1701.0,3410.6 1704.0,3412.1 1707.0,3413.5 1710.0,3415.0 1713.0,3416.5 1716.0,3418.0 1719.0,3419.5 1722.0,3420.9 1725.0,3422.4 1728.0,3423.9 1731.0,3425.3 1734.0,3426.7 1737.0,3428.1 1740.0,3429.5 1743.0,3430.8 1746.0,3432.2 1749.0,3433.5 1752.0,3434.8 1755.0,3436.1 1758.0,3437.4 1761.0,3438.7 1764.0,3439.9 1767.0,3441.2 1770.0,3442.4 1773.0,3443.6 1776.0,3444.9 1779.0,3446.1 1782.0,3447.2 1785.0,3448.4 1788.0,3449.6 1791.0,3450.7 1794.0,3451.9 1797.0,3453.1 1800.0,3454.2 1803.0,3455.4 1806.0,3456.6 1809.0,3457.7 1812.0,3458.9 1815.0,3460.2 1818.0,3461.4 1821.0,3462.7 1824.0,3463.9 1827.0,3465.2 1830.0,3466.5 1833.0,3467.8 1836.0,3469.1 1839.0,3470.4 1842.0,3471.8 1845.0,3473.2 1848.0,3474.5 1851.0,3475.9 1854.0,3477.3 1857.0,3478.8 1860.0,3480.2 1863.0,3481.6 1866.0,3483.0 1869.0,3484.5 1872.0,3485.9 1875.0,3487.4 1878.0,3488.8 1881.0,3490.3 1884.0,3491.7 1887.0,3493.1 1890.0,3494.6 1893.0,3496.1 1896.0,3497.5 1899.0,3499.0 1902.0,3500.5 1905.0,3501.9 1908.0,3503.4 1911.0,3504.9 1914.0,3506.4 1917.0,3507.9 1920.0,3509.4 1923.0,3510.9 1926.0,3512.4 1929.0,3513.9 1932.0,3515.4 1935.0,3516.9 1938.0,3518.5 1941.0,3520.0 1944.0,3521.6 1947.0,3523.2 1950.0,3524.8 1953.0,3526.4 1956.0,3528.1 1959.0,3529.7 1962.0,3531.4 1965.0,3533.1 1968.0,3534.7 1971.0,3536.4 1974.0,3538.1 1977.0,3539.8 1980.0,3541.5 1983.0,3543.2 1986.0,3544.9 1989.0,3546.6 1992.0,3548.2 1995.0,3549.9 1998.0,3551.5 2001.0,3553.2 2004.0,3554.8 2007.0,3556.4 2010.0,3558.0 2013.0,3559.6 2016.0,3561.2 2019.0,3562.7 2022.0,3564.3 2025.0,3565.8 2028.0,3567.4 2031.0,3568.9 2034.0,3570.4 2037.0,3571.9 2040.0,3573.4 2043.0,3574.9 2046.0,3576.3 2049.0,3577.7 2052.0,3579.1 2055.0,3580.5 2058.0,3581.9 2061.0,3583.3 2064.0,3584.6 2067.0,3585.9 2070.0,3587.2 2073.0,3588.5 2076.0,3589.8 2079.0,3591.0 2082.0,3592.3 2085.0,3593.5 2088.0,3594.7 2091.0,3595.9 2094.0,3597.1 2097.0,3598.2 2100.0,3599.4 2103.0,3600.5 2106.0,3601.6 2109.0,3602.7 2112.0,3603.7 2115.0,3604.8 2118.0,3605.8 2121.0,3606.8 2124.0,3607.8 2127.0,3608.8 2130.0,3609.7 2133.0,3610.6 2136.0,3611.4 2139.0,3612.1 2142.0,3612.7 2145.0,3613.2 2148.0,3613.6 2151.0,3613.9 2154.0,3614.2 2157.0,3614.4 2160.0,3614.7 2163.0,3615.0 2166.0,3615.4 2169.0,3615.8 2172.0,3616.5 2175.0,3617.3 2178.0,3618.2 2181.0,3619.1 2184.0,3620.1 2187.0,3621.0 2190.0,3621.9 2193.0,3622.7 2196.0,3623.6 2199.0,3624.4 2202.0,3625.2 2204.0,3625.7" stroke="#ff00ff" stroke-width="11.3"/>
<path d="M192.0,3136.0 195.0,3149.0 198.0,3161.8 201.0,3174.1 204.0,3185.8 207.0,3196.9 210.0,3207.4 213.0,3217.2 216.0,3226.3 219.0,3234.6 222.0,3241.8 225.0,3248.1 228.0,3253.6 231.0,3258.2 234.0,3261.9 237.0,3264.8 240.0,3267.2 243.0,3269.1 246.0,3270.5 249.0,3271.7 252.0,3272.7 255.0,3273.6 258.0,3274.4 261.0,3275.0 264.0,3275.3 267.0,3275.6 270.0,3275.7 273.0,3275.7 276.0,3275.8 279.0,3275.8 282.0,3275.7 285.0,3275.7 288.0,3275.6 291.0,3275.6 294.0,3275.5 297.0,3275.3 300.0,3275.2 303.0,3275.1 306.0,3274.9 309.0,3274.7 312.0,3274.5 315.0,3274.3 318.0,3274.0 321.0,3273.8 324.0,3273.5 327.0,3273.3 330.0,3273.0 333.0,3272.7 336.0,3272.5 339.0,3272.2 342.0,3271.9 345.0,3271.6 348.0,3271.3 351.0,3271.0 354.0,3270.7 357.0,3270.4 360.0,3270.1 363.0,3269.7 366.0,3269.4 369.0,3269.0 372.0,3268.6 375.0,3268.2 378.0,3267.7 381.0,3267.2 384.0,3266.7 387.0,3266.2 390.0,3265.6 393.0,3265.0 396.0,3264.3 399.0,3263.6 402.0,3262.9 405.0,3262.1 408.0,3261.4 411.0,3260.6 414.0,3259.8 417.0,3259.0 420.0,3258.2 423.0,3257.3 426.0,3256.5 429.0,3255.7 432.0,3254.9 435.0,3254.1 438.0,3253.2 441.0,3252.4 444.0,3251.6 447.0,3250.8 450.0,3250.0 453.0,3249.2 456.0,3248.4 459.0,3247.6 462.0,3246.8 465.0,3246.0 468.0,3245.1 471.0,3244.3 474.0,3243.4 477.0,3242.5 480.0,3241.6 483.0,3240.7 486.0,3239.8 489.0,3238.8 492.0,3237.8 495.0,3236.8 498.0,3235.8 501.0,3234.7 504.0,3233.7 507.0,3232.6 510.0,3231.5 513.0,3230.4 516.0,3229.2 519.0,3228.1 522.0,3226.9 525.0,3225.7 528.0,3224.5 531.0,3223.3 534.0,3222.0 537.0,3220.8 540.0,3219.5 543.0,3218.2 546.0,3217.0 549.0,3215.7 552.0,3214.4 555.0,3213.0 558.0,3211.7 561.0,3210.4 564.0,3209.0 567.0,3207.7 570.0,3206.3 573.0,3204.9 576.0,3203.5 579.0,3202.0 582.0,3200.5 585.0,3199.0 588.0,3197.4 591.0,3195.8 594.0,3194.1 597.0,3192.3 600.0,3190.5 603.0,3188.7 606.0,3186.7 609.0,3184.8 612.0,3182.7 615.0,3180.6 618.0,3178.4 621.0,3176.2 624.0,3173.9 627.0,3171.6 630.0,3169.2 633.0,3166.8 636.0,3164.4 639.0,3162.0 642.0,3159.5 645.0,3157.0 648.0,3154.5 651.0,3152.0 654.0,3149.5 657.0,3147.0 660.0,3144.6 663.0,3142.2 666.0,3140.0 669.0,3137.9 672.0,3135.9 675.0,3134.1 678.0,3132.5 681.0,3131.1 684.0,3129.8 687.0,3128.7 690.0,3127.8 693.0,3127.1 696.0,3126.5 699.0,3126.1 702.0,3125.9 705.0,3125.7 708.0,3125.8 711.0,3125.9 714.0,3126.1 717.0,3126.3 720.0,3126.7 723.0,3127.0 726.0,3127.4 729.0,3127.8 732.0,3128.2 735.0,3128.6 738.0,3129.0 741.0,3129.4 744.0,3129.9 747.0,3130.3 750.0,3130.7 753.0,3131.1 756.0,3131.5 759.0,3131.9 762.0,3132.2 765.0,3132.5 768.0,3132.8 771.0,3133.1 774.0,3133.3 777.0,3133.5 780.0,3133.6 783.0,3133.7 786.0,3133.8 789.0,3133.9 792.0,3133.9 795.0,3134.0 798.0,3134.0 801.0,3134.0 804.0,3134.0 807.0,3134.0 810.0,3134.0 813.0,3134.0 816.0,3134.0 819.0,3134.0 822.0,3134.0 825.0,3134.0 828.0,3134.0 831.0,3134.0 834.0,3134.0 837.0,3134.0 840.0,3133.9 843.0,3133.9 846.0,3133.9 849.0,3133.9 852.0,3133.8 855.0,3133.8 858.0,3133.7 861.0,3133.7 864.0,3133.6 867.0,3133.6 870.0,3133.5 873.0,3133.4 876.0,3133.4 879.0,3133.3 882.0,3133.2 885.0,3133.1 888.0,3133.1 891.0,3133.0 894.0,3132.9 897.0,3132.9 900.0,3132.8 903.0,3132.8 906.0,3132.7 909.0,3132.7 912.0,3132.6 915.0,3132.6 918.0,3132.5 921.0,3132.5 924.0,3132.5 927.0,3132.5 930.0,3132.4 933.0,3132.4 936.0,3132.4 939.0,3132.4 942.0,3132.4 945.0,3132.4 948.0,3132.4 951.0,3132.4 954.0,3132.4 957.0,3132.4 960.0,3132.4 963.0,3132.4 966.0,3132.4 969.0,3132.4 972.0,3132.4 975.0,3132.4 978.0,3132.4 981.0,3132.4 984.0,3132.5 987.0,3132.5 990.0,3132.6 993.0,3132.6 996.0,3132.7 999.0,3132.8 1002.0,3132.9 1005.0,3133.1 1008.0,3133.2 1011.0,3133.4 1014.0,3133.6 1017.0,3133.9 1020.0,3134.1 1023.0,3134.3 1026.0,3134.6 1029.0,3134.9 1032.0,3135.1 1035.0,3135.4 1038.0,3135.7 1041.0,3136.0 1044.0,3136.3 1047.0,3136.6 1050.0,3137.0 1053.0,3137.3 1056.0,3137.6 1059.0,3138.0 1062.0,3138.4 1065.0,3138.8 1068.0,3139.2 1071.0,3139.6 1074.0,3140.0 1077.0,3140.5 1080.0,3140.9 1083.0,3141.4 1086.0,3141.8 1089.0,3142.3 1092.0,3142.8 1095.0,3143.3 1098.0,3143.9 1101.0,3144.4 1104.0,3145.0 1107.0,3145.6 1110.0,3146.2 1113.0,3146.8 1116.0,3147.4 1119.0,3148.0 1122.0,3148.6 1125.0,3149.2 1128.0,3149.8 1131.0,3150.4 1134.0,3151.0 1137.0,3151.6 1140.0,3152.2 1143.0,3152.7 1146.0,3153.3 1149.0,3153.8 1152.0,3154.3 1155.0,3154.8 1158.0,3155.3 1161.0,3155.8 1164.0,3156.3 1167.0,3156.8 1170.0,3157.4 1173.0,3157.9 1176.0,3158.5 1179.0,3159.1 1182.0,3159.8 1185.0,3160.5 1188.0,3161.2 1191.0,3162.0 1194.0,3162.8 1197.0,3163.6 1200.0,3164.4 1203.0,3165.3 1206.0,3166.1 1209.0,3167.0 1212.0,3167.8 1215.0,3168.6 1218.0,3169.5 1221.0,3170.3 1224.0,3171.1 1227.0,3171.9 1230.0,3172.6 1233.0,3173.4 1236.0,3174.1 1239.0,3174.8 1242.0,3175.4 1245.0,3176.0 1248.0,3176.5 1251.0,3177.1 1254.0,3177.5 1257.0,3178.0 1260.0,3178.4 1263.0,3178.8 1266.0,3179.1 1269.0,3179.4 1272.0,3179.6 1275.0,3179.8 1278.0,3180.0 1281.0,3180.2 1284.0,3180.3 1287.0,3180.4 1290.0,3180.5 1293.0,3180.6 1296.0,3180.7 1299.0,3180.7 1302.0,3180.7 1305.0,3180.7 1308.0,3180.7 1311.0,3180.5 1314.0,3180.3 1317.0,3179.9 1320.0,3179.4 1323.0,3178.7 1326.0,3177.9 1329.0,3177.0 1332.0,3175.8 1335.0,3174.5 1338.0,3173.0 1341.0,3171.4 1344.0,3169.6 1347.0,3167.6 1350.0,3165.5 1353.0,3163.2 1356.0,3160.8 1359.0,3158.2 1362.0,3155.4 1365.0,3152.5 1368.0,3149.4 1371.0,3146.2 1374.0,3142.9 1377.0,3139.4 1380.0,3135.7 1383.0,3131.9 1386.0,3128.0 1389.0,3123.9 1392.0,3119.6 1395.0,3115.2 1398.0,3110.6 1401.0,3105.8 1404.0,3101.0 1407.0,3096.1 1410.0,3091.3 1413.0,3086.6 1416.0,3082.0 1419.0,3077.5 1422.0,3073.2 1425.0,3068.8 1428.0,3064.3 1431.0,3059.9 1434.0,3055.8 1437.0,3051.9 1440.0,3048.4 1443.0,3045.2 1446.0,3042.2 1449.0,3039.5 1452.0,3037.3 1455.0,3035.4 1458.0,3033.8 1461.0,3032.5 1464.0,3031.3 1467.0,3030.3 1470.0,3029.7 1473.0,3029.8 1476.0,3030.7 1479.0,3032.3 1482.0,3034.4 1485.0,3036.9 1488.0,3039.9 1491.0,3043.4 1494.0,3047.7 1497.0,3052.8 1500.0,3058.7 1503.0,3065.4 1506.0,3072.9 1509.0,3081.1 1512.0,3090.2 1515.0,3100.1 1518.0,3110.6 1521.0,3121.6 1524.0,3133.3 1527.0,3145.7 1530.0,3158.6 1533.0,3171.4 1536.0,3183.6 1539.0,3194.9 1542.0,3205.4 1545.0,3215.3 1548.0,3225.0 1551.0,3234.4 1554.0,3243.5 1557.0,3252.3 1560.0,3260.7 1563.0,3268.9 1566.0,3276.9 1569.0,3284.7 1572.0,3292.5 1575.0,3300.1 1578.0,3307.6 1581.0,3315.0 1584.0,3322.4 1587.0,3329.7 1590.0,3336.9 1593.0,3344.1 1596.0,3351.2 1599.0,3358.2 1602.0,3365.1 1605.0,3371.8 1608.0,3378.4 1611.0,3384.8 1614.0,3391.0 1617.0,3397.0 1620.0,3402.7 1623.0,3408.2 1626.0,3413.5 1629.0,3418.5 1632.0,3423.2 1635.0,3427.7 1638.0,3432.0 1641.0,3436.0 1644.0,3439.8 1647.0,3443.4 1650.0,3446.8 1653.0,3450.0 1656.0,3453.1 1659.0,3456.1 1662.0,3458.9 1665.0,3461.6 1668.0,3464.3 1671.0,3466.9 1674.0,3469.5 1677.0,3472.1 1680.0,3474.6 1683.0,3477.1 1686.0,3479.6 1689.0,3482.1 1692.0,3484.5 1695.0,3486.9 1698.0,3489.3 1701.0,3491.7 1704.0,3494.1 1707.0,3496.5 1710.0,3498.8 1713.0,3501.1 1716.0,3503.4 1719.0,3505.7 1722.0,3508.0 1725.0,3510.2 1728.0,3512.5 1731.0,3514.7 1734.0,3517.0 1737.0,3519.2 1740.0,3521.4 1743.0,3523.7 1746.0,3525.9 1749.0,3528.1 1752.0,3530.4 1755.0,3532.7 1758.0,3534.9 1761.0,3537.2 1764.0,3539.6 1767.0,3541.9 1770.0,3544.2 1773.0,3546.6 1776.0,3548.9 1779.0,3551.3 1782.0,3553.7 1785.0,3556.1 1788.0,3558.5 1791.0,3560.9 1794.0,3563.3 1797.0,3565.7 1800.0,3568.1 1803.0,3570.6 1806.0,3573.1 1809.0,3575.5 1812.0,3578.0 1815.0,3580.5 1818.0,3583.1 1821.0,3585.6 1824.0,3588.1 1827.0,3590.6 1830.0,3593.2 1833.0,3595.7 1836.0,3598.3 1839.0,3600.8 1842.0,3603.4 1845.0,3606.0 1848.0,3608.6 1851.0,3611.3 1854.0,3614.0 1857.0,3616.7 1860.0,3619.4 1863.0,3622.1 1866.0,3624.9 1869.0,3627.6 1872.0,3630.4 1875.0,3633.2 1878.0,3636.1 1881.0,3638.9 1884.0,3641.8 1887.0,3644.7 1890.0,3647.7 1893.0,3650.7 1896.0,3653.7 1899.0,3656.7 1902.0,3659.7 1905.0,3662.7 1908.0,3665.7 1911.0,3668.6 1914.0,3671.6 1917.0,3674.6 1920.0,3677.5 1923.0,3680.6 1926.0,3683.6 1929.0,3686.7 1932.0,3689.8 1935.0,3693.0 1938.0,3696.2 1941.0,3699.4 1944.0,3702.7 1947.0,3705.9 1950.0,3709.2 1953.0,3712.4 1956.0,3715.6 1959.0,3718.8 1962.0,3721.9 1965.0,3724.9 1968.0,3727.9 1971.0,3730.8 1974.0,3733.6 1977.0,3736.5 1980.0,3739.3 1983.0,3742.1 1986.0,3744.8 1989.0,3747.6 1992.0,3750.3 1995.0,3753.0 1998.0,3755.7 2001.0,3758.4 2004.0,3761.1 2007.0,3763.9 2010.0,3766.7 2013.0,3769.5 2016.0,3772.4 2019.0,3775.4 2022.0,3778.4 2025.0,3781.4 2028.0,3784.5 2031.0,3787.6 2034.0,3790.7 2037.0,3793.8 2040.0,3796.9 2043.0,3800.0 2046.0,3803.0 2049.0,3806.1 2052.0,3809.2 2055.0,3812.2 2058.0,3815.2 2061.0,3818.2 2064.0,3821.1 2067.0,3824.0 2070.0,3826.9 2073.0,3829.7 2076.0,3832.5 2079.0,3835.3 2082.0,3838.0 2085.0,3840.8 2088.0,3843.5 2091.0,3846.2 2094.0,3848.9 2097.0,3851.5 2100.0,3854.2 2103.0,3856.8 2106.0,3859.5 2109.0,3862.1 2112.0,3864.7 2115.0,3867.3 2118.0,3869.9 2121.0,3872.5 2124.0,3875.0 2127.0,3877.6 2130.0,3880.1 2133.0,3882.6 2136.0,3885.1 2139.0,3887.5 2142.0,3889.9 2145.0,3892.3 2148.0,3894.6 2151.0,3896.8 2154.0,3899.0 2157.0,3901.0 2160.0,3903.0 2163.0,3905.0 2166.0,3906.8 2169.0,3908.6 2172.0,3910.4 2175.0,3912.1 2178.0,3913.7 2181.0,3915.3 2184.0,3916.9 2187.0,3918.5 2190.0,3920.1 2193.0,3921.7 2196.0,3923.3 2199.0,3924.8 2202.0,3926.4 2204.0,3927.4" stroke="#008000" stroke-width="11.3"/>
</g>
<path class="dot" stroke-dasharray="10.9 8.47" d="M297.3,2426.7V3972.5"/>
<path class="dot" stroke-dasharray="10.9 8.47" d="M931,2429.4V3972.5"/>
<path class="dot" stroke-dasharray="10.9 8.47" d="M2208.4,2432V3972.5"/>
<g class="tk" text-anchor="middle" font-size="76.8">
<text x="297.3" y="4090.0">100</text>
<text x="509.6" y="4090.0">200</text>
<text x="721.8" y="4090.0">300</text>
<text x="934.1" y="4090.0">400</text>
<text x="1146.4" y="4090.0">500</text>
<text x="1358.7" y="4090.0">600</text>
<text x="1570.9" y="4090.0">700</text>
<text x="1783.2" y="4090.0">800</text>
<text x="1995.5" y="4090.0">900</text>
<text x="2207.7" y="4090.0">1000</text>
</g>
<text class="tt" font-size="77.8" text-anchor="middle" x="1252.7" y="4232.8">Temperature (°C)</text>
<text class="yt" font-size="70.2" text-anchor="middle" transform="translate(116.8,3103) rotate(-90)">DTA (a.u.)</text>
<path class="lg" d="M325.6,2338H478.2" stroke="#000000"/>
<text class="lt" font-size="68.5" x="494.7" y="2361">(a)</text>
<path class="lg" d="M711.6,2338H863.5" stroke="#ff0000"/>
<text class="lt" font-size="68.5" x="881.3" y="2361">(b)</text>
<path class="lg" d="M1101.0,2338H1252.9" stroke="#0000ff"/>
<text class="lt" font-size="68.5" x="1268.5" y="2361">(c)</text>
<path class="lg" d="M1482.8,2338H1634.8" stroke="#ff00ff"/>
<text class="lt" font-size="68.5" x="1651.2" y="2361">(d)</text>
<path class="lg" d="M1873.0,2338H2024.2" stroke="#008000"/>
<text class="lt" font-size="68.5" x="2040.6" y="2361">(e)</text>
<text class="lt" font-size="68.5" x="1206" y="3701">(B)</text>
<path d="M186,2615.5H2319" stroke="#fff" stroke-width="1" fill="none"/>
</svg></body></html>
